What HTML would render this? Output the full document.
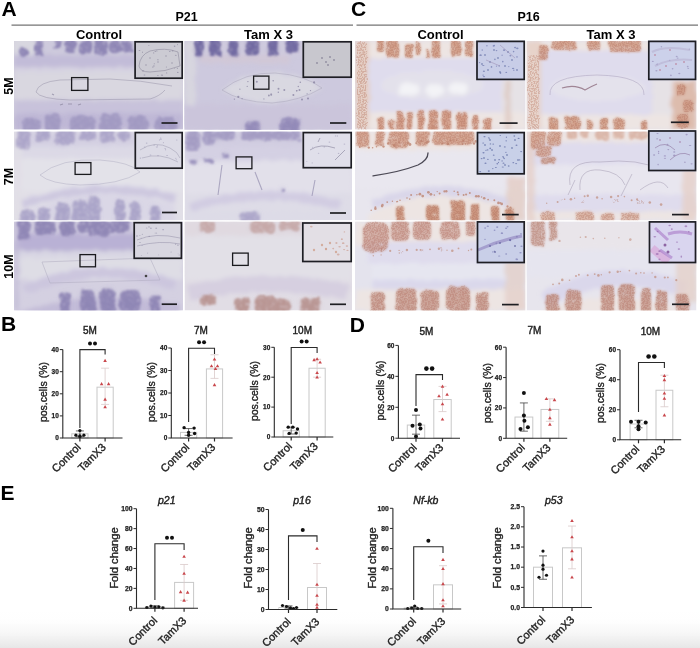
<!DOCTYPE html><html><head><meta charset="utf-8"><style>html,body{margin:0;padding:0;background:#fff;}body{width:700px;height:648px;overflow:hidden;position:relative;font-family:"Liberation Sans",sans-serif}svg{position:absolute;left:0;top:0}</style></head><body>
<svg width="700" height="648" viewBox="0 0 700 648" font-family='"Liberation Sans", sans-serif'>
<defs><linearGradient id="bot" x1="0" y1="0" x2="0" y2="1"><stop offset="0" stop-color="#fff" stop-opacity="0"/><stop offset="1" stop-color="#e6e6e6"/></linearGradient><filter id="bl" x="-5%" y="-5%" width="110%" height="110%"><feGaussianBlur stdDeviation="1.6"/></filter><filter id="bl2" x="-5%" y="-5%" width="110%" height="110%"><feGaussianBlur stdDeviation="0.7"/></filter></defs>
<rect width="700" height="648" fill="#fff"/>
<clipPath id="cp1"><rect x="14" y="41" width="169" height="88.6"/></clipPath>
<filter id="pb1" x="4" y="31" width="189" height="108.6" filterUnits="userSpaceOnUse"><feTurbulence type="fractalNoise" baseFrequency="0.12" numOctaves="2" seed="1" result="t"/><feDisplacementMap in="SourceGraphic" in2="t" scale="5" xChannelSelector="R" yChannelSelector="G" result="d"/><feGaussianBlur in="d" stdDeviation="2.0"/></filter>
<filter id="pt1" x="4" y="31" width="189" height="108.6" filterUnits="userSpaceOnUse"><feTurbulence type="fractalNoise" baseFrequency="0.13" numOctaves="2" seed="51" result="t"/><feDisplacementMap in="SourceGraphic" in2="t" scale="6" xChannelSelector="R" yChannelSelector="G" result="d"/><feTurbulence type="fractalNoise" baseFrequency="0.35" numOctaves="2" seed="91" result="n"/><feColorMatrix in="n" type="matrix" values="0 0 0 0 0  0 0 0 0 0  0 0 0 0 0  -3.0 0 0 0 2.55" result="m"/><feComposite in="d" in2="m" operator="in" result="s"/><feGaussianBlur in="s" stdDeviation="0.9"/></filter>
<filter id="ps1" x="4" y="31" width="189" height="108.6" filterUnits="userSpaceOnUse"><feColorMatrix type="saturate" values="0.92"/></filter>
<filter id="pd1" x="4" y="31" width="189" height="108.6" filterUnits="userSpaceOnUse"><feTurbulence type="fractalNoise" baseFrequency="0.13" numOctaves="2" seed="51" result="t"/><feDisplacementMap in="SourceGraphic" in2="t" scale="6" xChannelSelector="R" yChannelSelector="G" result="d"/><feTurbulence type="fractalNoise" baseFrequency="0.7" numOctaves="1" seed="131" result="n"/><feColorMatrix in="n" type="matrix" values="0 0 0 0 0  0 0 0 0 0  0 0 0 0 0  -6 0 0 0 3.5" result="m"/><feComposite in="d" in2="m" operator="in" result="s"/><feGaussianBlur in="s" stdDeviation="0.7"/></filter>
<filter id="pm1" x="4" y="31" width="189" height="108.6" filterUnits="userSpaceOnUse"><feGaussianBlur stdDeviation="0.6"/></filter>
<g clip-path="url(#cp1)"><g filter="url(#ps1)"><rect x="14" y="41" width="169" height="88.6" fill="#d0ccde"/>
<g filter="url(#pb1)">
<rect x="14" y="41" width="169" height="15" fill="#cecade" opacity="1"/>
<ellipse cx="24" cy="46" rx="14" ry="10" fill="#d8d7e1" opacity="1" transform="rotate(0 24 46)"/>
<rect x="14" y="55" width="169" height="12" fill="#c2bcda" opacity="1"/>
<rect x="14" y="67" width="169" height="5" fill="#d5d2e2" opacity="1"/>
<rect x="14" y="72" width="169" height="27" fill="#d9d7e1" opacity="1"/>
<rect x="14" y="101" width="169" height="12" fill="#c8c2dd" opacity="1"/>
<rect x="14" y="113" width="169" height="16.599999999999994" fill="#bfb8d8" opacity="1"/>
<g fill="#8a81b6" opacity="0.5">
<rect x="21" y="49" width="6" height="7" rx="2.8"/>
<rect x="36" y="41" width="6" height="14" rx="2.8"/>
<rect x="56" y="41" width="4" height="7" rx="2.1"/>
<rect x="66" y="41" width="9" height="11" rx="3.8"/>
<rect x="80" y="41" width="11" height="12" rx="4.5"/>
<rect x="96" y="41" width="11" height="13" rx="4.5"/>
<rect x="111" y="41" width="8" height="11" rx="3.5"/>
<rect x="122" y="41" width="9" height="10" rx="3.8"/>
</g>
</g>
<g filter="url(#pt1)">
<g fill="#8a81b6" opacity="0.9">
<rect x="20.0" y="48" width="8.0" height="9" rx="2.4"/>
<rect x="35.0" y="40" width="8.0" height="16" rx="2.4"/>
<rect x="55.0" y="40" width="6.0" height="9" rx="1.8"/>
<rect x="65.0" y="40" width="11.0" height="13" rx="3.3"/>
<rect x="79.0" y="40" width="13.0" height="14" rx="3.9"/>
<rect x="95.0" y="40" width="13.0" height="15" rx="3.9"/>
<rect x="110.0" y="40" width="10.0" height="13" rx="3.0"/>
<rect x="121.0" y="40" width="11.0" height="12" rx="3.3"/>
</g>
</g>
<g filter="url(#pb1)">
<g fill="#9f97c4" opacity="0.5">
<rect x="23" y="119" width="16" height="12" rx="4.9"/>
<rect x="46" y="115" width="13" height="16" rx="5.2"/>
<rect x="71" y="117" width="23" height="14" rx="5.6"/>
<rect x="101" y="115" width="20" height="16" rx="6.3"/>
<rect x="129" y="117" width="18" height="14" rx="5.6"/>
<rect x="156" y="119" width="19" height="12" rx="4.9"/>
</g>
</g>
<g filter="url(#pt1)">
<g fill="#9f97c4" opacity="0.85">
<rect x="22.0" y="118" width="18.0" height="14" rx="4.2"/>
<rect x="45.0" y="114" width="15.0" height="18" rx="4.5"/>
<rect x="70.0" y="116" width="25.0" height="16" rx="4.8"/>
<rect x="100.0" y="114" width="22.0" height="18" rx="5.4"/>
<rect x="128.0" y="116" width="20.0" height="16" rx="4.8"/>
<rect x="155.0" y="118" width="21.0" height="14" rx="4.2"/>
</g>
</g>
</g></g>
<path d="M36,92 Q38,82 60,80 L110,79 Q140,80 172,86 M36,92 Q40,99 70,100 L150,99 Q160,96 165,90" fill="none" stroke="#8c889f" stroke-width="0.8" opacity="0.55"/>
<path d="M60,105 l3,-1 M68,104 l4,0 M78,105 l3,-1 M52,94 l2,1" stroke="#8b869f" stroke-width="1.2" opacity="0.7"/>
<filter id="ib1" x="129.3" y="36" width="58.69999999999999" height="48" filterUnits="userSpaceOnUse"><feGaussianBlur stdDeviation="0.6"/></filter>
<clipPath id="ic1"><rect x="134.3" y="41" width="48.69999999999999" height="38"/></clipPath>
<rect x="134.3" y="41" width="48.69999999999999" height="38" fill="#cccbd3"/>
<g clip-path="url(#ic1)"><g filter="url(#ib1)">
<g fill="#7a7590" opacity="0.55">
<ellipse cx="172.6" cy="50.8" rx="1.0" ry="0.6"/>
<ellipse cx="154.3" cy="63.7" rx="0.6" ry="0.5"/>
<ellipse cx="155.3" cy="51.4" rx="0.8" ry="0.5"/>
<ellipse cx="153.7" cy="52.9" rx="0.6" ry="0.6"/>
<ellipse cx="175.8" cy="55.2" rx="0.9" ry="0.5"/>
<ellipse cx="169.8" cy="51.6" rx="0.8" ry="0.5"/>
<ellipse cx="174.5" cy="68.4" rx="0.5" ry="0.4"/>
<ellipse cx="156.9" cy="50.9" rx="0.6" ry="0.7"/>
<ellipse cx="177.5" cy="44.6" rx="0.5" ry="0.6"/>
<ellipse cx="177.8" cy="72.4" rx="0.8" ry="0.6"/>
<ellipse cx="157.9" cy="59.7" rx="0.9" ry="0.5"/>
<ellipse cx="166.4" cy="67.0" rx="0.6" ry="0.6"/>
<ellipse cx="144.5" cy="75.0" rx="0.9" ry="0.5"/>
<ellipse cx="162.2" cy="75.2" rx="0.7" ry="0.5"/>
<ellipse cx="166.7" cy="72.9" rx="0.6" ry="0.6"/>
<ellipse cx="153.9" cy="66.0" rx="0.7" ry="0.7"/>
<ellipse cx="161.9" cy="74.9" rx="1.0" ry="0.5"/>
<ellipse cx="177.4" cy="68.3" rx="0.6" ry="0.6"/>
<ellipse cx="148.9" cy="45.5" rx="0.5" ry="0.5"/>
<ellipse cx="174.6" cy="46.3" rx="0.8" ry="0.7"/>
<ellipse cx="152.8" cy="67.0" rx="0.8" ry="0.6"/>
<ellipse cx="157.9" cy="75.4" rx="0.7" ry="0.5"/>
<ellipse cx="142.5" cy="52.2" rx="0.5" ry="0.7"/>
<ellipse cx="143.0" cy="70.9" rx="0.9" ry="0.6"/>
<ellipse cx="139.5" cy="50.5" rx="0.9" ry="0.5"/>
</g>
<path d="M139,66 Q140,55 150,51 Q165,47 178,52 L180,66 Q165,72 150,72 Q140,72 139,66" fill="none" stroke="#8b879b" stroke-width="0.7" opacity="0.8"/>
<circle cx="150" cy="58" r="0.8" fill="#848099" opacity="0.6"/>
<circle cx="158" cy="62" r="0.8" fill="#848099" opacity="0.6"/>
<circle cx="166" cy="56" r="0.8" fill="#848099" opacity="0.6"/>
<circle cx="172" cy="63" r="0.8" fill="#848099" opacity="0.6"/>
<circle cx="146" cy="65" r="0.8" fill="#848099" opacity="0.6"/>
</g></g>
<rect x="135.10000000000002" y="41.8" width="47.09999999999999" height="36.4" fill="none" stroke="#1e1e24" stroke-width="1.7"/>
<rect x="71.6" y="77.6" width="16.3" height="12.8" fill="none" stroke="#1a1a1e" stroke-width="1.3"/>
<line x1="161.5" y1="123" x2="177.5" y2="123" stroke="#1e1e22" stroke-width="1.7"/>
<clipPath id="cp2"><rect x="184.5" y="41" width="167.5" height="88.6"/></clipPath>
<filter id="pb2" x="174.5" y="31" width="187.5" height="108.6" filterUnits="userSpaceOnUse"><feTurbulence type="fractalNoise" baseFrequency="0.12" numOctaves="2" seed="2" result="t"/><feDisplacementMap in="SourceGraphic" in2="t" scale="5" xChannelSelector="R" yChannelSelector="G" result="d"/><feGaussianBlur in="d" stdDeviation="2.0"/></filter>
<filter id="pt2" x="174.5" y="31" width="187.5" height="108.6" filterUnits="userSpaceOnUse"><feTurbulence type="fractalNoise" baseFrequency="0.13" numOctaves="2" seed="52" result="t"/><feDisplacementMap in="SourceGraphic" in2="t" scale="6" xChannelSelector="R" yChannelSelector="G" result="d"/><feTurbulence type="fractalNoise" baseFrequency="0.35" numOctaves="2" seed="92" result="n"/><feColorMatrix in="n" type="matrix" values="0 0 0 0 0  0 0 0 0 0  0 0 0 0 0  -3.0 0 0 0 2.55" result="m"/><feComposite in="d" in2="m" operator="in" result="s"/><feGaussianBlur in="s" stdDeviation="0.9"/></filter>
<filter id="ps2" x="174.5" y="31" width="187.5" height="108.6" filterUnits="userSpaceOnUse"><feColorMatrix type="saturate" values="0.92"/></filter>
<filter id="pd2" x="174.5" y="31" width="187.5" height="108.6" filterUnits="userSpaceOnUse"><feTurbulence type="fractalNoise" baseFrequency="0.13" numOctaves="2" seed="52" result="t"/><feDisplacementMap in="SourceGraphic" in2="t" scale="6" xChannelSelector="R" yChannelSelector="G" result="d"/><feTurbulence type="fractalNoise" baseFrequency="0.7" numOctaves="1" seed="132" result="n"/><feColorMatrix in="n" type="matrix" values="0 0 0 0 0  0 0 0 0 0  0 0 0 0 0  -6 0 0 0 3.5" result="m"/><feComposite in="d" in2="m" operator="in" result="s"/><feGaussianBlur in="s" stdDeviation="0.7"/></filter>
<filter id="pm2" x="174.5" y="31" width="187.5" height="108.6" filterUnits="userSpaceOnUse"><feGaussianBlur stdDeviation="0.6"/></filter>
<g clip-path="url(#cp2)"><g filter="url(#ps2)"><rect x="184.5" y="41" width="167.5" height="88.6" fill="#cdc9df"/>
<g filter="url(#pb2)">
<rect x="184.5" y="41" width="167.5" height="15" fill="#cfcadf" opacity="1"/>
<rect x="200" y="55" width="90" height="8" fill="#d2c8d7" opacity="0.9"/>
<rect x="184.5" y="41" width="11.0" height="88.6" fill="#d8d7e0" opacity="0.9"/>
<path d="M222,90 Q245,72 275,73 Q305,75 322,88 Q300,101 272,103 Q240,102 222,90 Z" fill="#d9d8e2" stroke="none" stroke-width="0" opacity="1"/>
<rect x="184.5" y="105" width="167.5" height="24.599999999999994" fill="#cbc5dd" opacity="1"/>
<g fill="#7d74ad" opacity="0.75">
<rect x="196" y="41" width="6" height="15" rx="2.8"/>
<rect x="210" y="41" width="10" height="13" rx="4.2"/>
<rect x="230" y="41" width="7" height="14" rx="3.1"/>
<rect x="247" y="41" width="11" height="13" rx="4.5"/>
<rect x="269" y="41" width="8" height="14" rx="3.5"/>
<rect x="287" y="41" width="10" height="11" rx="4.2"/>
</g>
</g>
<g filter="url(#pt2)">
<g fill="#6f66a3" opacity="0.95">
<rect x="195.0" y="40" width="8.0" height="17" rx="2.4"/>
<rect x="209.0" y="40" width="12.0" height="15" rx="3.6"/>
<rect x="229.0" y="40" width="9.0" height="16" rx="2.7"/>
<rect x="246.0" y="40" width="13.0" height="15" rx="3.9"/>
<rect x="268.0" y="40" width="10.0" height="16" rx="3.0"/>
<rect x="286.0" y="40" width="12.0" height="13" rx="3.6"/>
</g>
</g>
<g filter="url(#pb2)">
<g fill="#8a81b6" opacity="0.5">
<rect x="246" y="123" width="13" height="9" rx="3.8"/>
<rect x="281" y="119" width="18" height="13" rx="5.2"/>
</g>
</g>
<g filter="url(#pt2)">
<g fill="#8a81b6" opacity="0.75">
<rect x="245.0" y="122" width="15.0" height="11" rx="3.3"/>
<rect x="280.0" y="118" width="20.0" height="15" rx="4.5"/>
</g>
</g>
</g></g>
<path d="M222,90 Q245,72 275,73 Q305,75 322,88 Q300,101 272,103 Q240,102 222,90 Z" fill="none" stroke="#afaabf" stroke-width="0.7" opacity="0.8"/>
<g fill="#7a7496" opacity="0.65"><circle cx="298.3" cy="86.5" r="0.7"/><circle cx="300.3" cy="82.3" r="0.8"/><circle cx="278.3" cy="92.2" r="0.7"/><circle cx="284.3" cy="90.0" r="1.0"/><circle cx="234.4" cy="99.1" r="0.7"/><circle cx="299.5" cy="90.1" r="1.0"/><circle cx="247.2" cy="86.4" r="0.6"/><circle cx="296.6" cy="90.7" r="0.7"/><circle cx="247.9" cy="81.6" r="0.7"/><circle cx="278.5" cy="88.8" r="1.0"/><circle cx="238.3" cy="96.8" r="1.1"/><circle cx="293.4" cy="94.9" r="1.0"/><circle cx="239.9" cy="89.2" r="0.6"/><circle cx="296.9" cy="90.8" r="0.7"/><circle cx="268.9" cy="95.5" r="0.9"/><circle cx="242.1" cy="98.7" r="0.6"/><circle cx="302.0" cy="99.5" r="1.0"/><circle cx="310.5" cy="90.6" r="0.7"/><circle cx="271.2" cy="94.8" r="1.0"/><circle cx="263.9" cy="98.9" r="0.6"/><circle cx="273.2" cy="80.8" r="0.8"/><circle cx="314.1" cy="82.4" r="1.1"/><circle cx="307.1" cy="93.8" r="0.6"/><circle cx="271.1" cy="93.8" r="0.6"/><circle cx="256.8" cy="81.8" r="1.0"/><circle cx="308.0" cy="98.5" r="1.0"/></g>
<filter id="ib2" x="297.5" y="36" width="59.5" height="47" filterUnits="userSpaceOnUse"><feGaussianBlur stdDeviation="0.6"/></filter>
<clipPath id="ic2"><rect x="302.5" y="41" width="49.5" height="37"/></clipPath>
<rect x="302.5" y="41" width="49.5" height="37" fill="#c8c7ce"/>
<g clip-path="url(#ic2)"><g filter="url(#ib2)">
<circle cx="322" cy="58" r="0.9" fill="#817e93" opacity="0.8"/>
<circle cx="326" cy="62" r="0.9" fill="#817e93" opacity="0.8"/>
<circle cx="330" cy="57" r="0.9" fill="#817e93" opacity="0.8"/>
<circle cx="334" cy="60" r="0.9" fill="#817e93" opacity="0.8"/>
<circle cx="317" cy="63" r="0.9" fill="#817e93" opacity="0.8"/>
<circle cx="328" cy="65" r="0.9" fill="#817e93" opacity="0.8"/>
</g></g>
<rect x="303.3" y="41.8" width="47.9" height="35.4" fill="none" stroke="#1e1e24" stroke-width="1.7"/>
<rect x="253.6" y="76.1" width="15.3" height="13.099999999999998" fill="none" stroke="#1a1a1e" stroke-width="1.3"/>
<line x1="330" y1="123" x2="346.3" y2="123" stroke="#1e1e22" stroke-width="1.7"/>
<clipPath id="cp3"><rect x="14" y="131.5" width="169" height="88.80000000000001"/></clipPath>
<filter id="pb3" x="4" y="121.5" width="189" height="108.80000000000001" filterUnits="userSpaceOnUse"><feTurbulence type="fractalNoise" baseFrequency="0.12" numOctaves="2" seed="3" result="t"/><feDisplacementMap in="SourceGraphic" in2="t" scale="5" xChannelSelector="R" yChannelSelector="G" result="d"/><feGaussianBlur in="d" stdDeviation="2.0"/></filter>
<filter id="pt3" x="4" y="121.5" width="189" height="108.80000000000001" filterUnits="userSpaceOnUse"><feTurbulence type="fractalNoise" baseFrequency="0.13" numOctaves="2" seed="53" result="t"/><feDisplacementMap in="SourceGraphic" in2="t" scale="6" xChannelSelector="R" yChannelSelector="G" result="d"/><feTurbulence type="fractalNoise" baseFrequency="0.35" numOctaves="2" seed="93" result="n"/><feColorMatrix in="n" type="matrix" values="0 0 0 0 0  0 0 0 0 0  0 0 0 0 0  -3.0 0 0 0 2.55" result="m"/><feComposite in="d" in2="m" operator="in" result="s"/><feGaussianBlur in="s" stdDeviation="0.9"/></filter>
<filter id="ps3" x="4" y="121.5" width="189" height="108.80000000000001" filterUnits="userSpaceOnUse"><feColorMatrix type="saturate" values="0.92"/></filter>
<filter id="pd3" x="4" y="121.5" width="189" height="108.80000000000001" filterUnits="userSpaceOnUse"><feTurbulence type="fractalNoise" baseFrequency="0.13" numOctaves="2" seed="53" result="t"/><feDisplacementMap in="SourceGraphic" in2="t" scale="6" xChannelSelector="R" yChannelSelector="G" result="d"/><feTurbulence type="fractalNoise" baseFrequency="0.7" numOctaves="1" seed="133" result="n"/><feColorMatrix in="n" type="matrix" values="0 0 0 0 0  0 0 0 0 0  0 0 0 0 0  -6 0 0 0 3.5" result="m"/><feComposite in="d" in2="m" operator="in" result="s"/><feGaussianBlur in="s" stdDeviation="0.7"/></filter>
<filter id="pm3" x="4" y="121.5" width="189" height="108.80000000000001" filterUnits="userSpaceOnUse"><feGaussianBlur stdDeviation="0.6"/></filter>
<g clip-path="url(#cp3)"><g filter="url(#ps3)"><rect x="14" y="131.5" width="169" height="88.80000000000001" fill="#e1dfe8"/>
<g filter="url(#pb3)">
<rect x="14" y="131.5" width="169" height="15.0" fill="#d4d0e3" opacity="1"/>
<rect x="14" y="146.5" width="169" height="12.0" fill="#dcd9e7" opacity="1"/>
<rect x="14" y="158.5" width="169" height="33.0" fill="#e3e2ea" opacity="1"/>
<path d="M20,215 Q95,180 175,205 L175,221 L20,221 Z" fill="#dad7e7" stroke="none" stroke-width="0" opacity="1"/>
<path d="M22,205 Q95,178 175,198" fill="none" stroke="#cdc8e1" stroke-width="8" opacity="1"/>
<rect x="14" y="131.5" width="8" height="88.80000000000001" fill="#e1dfe7" opacity="0.8"/>
<g fill="#9f97c4" opacity="0.3">
<rect x="17" y="131" width="12" height="18" rx="4.9"/>
<rect x="36" y="131" width="13" height="9" rx="3.8"/>
<rect x="56" y="131" width="18" height="13" rx="5.2"/>
<rect x="81" y="131" width="13" height="8" rx="3.5"/>
<rect x="101" y="131" width="13" height="10" rx="4.2"/>
<rect x="119" y="131" width="10" height="8" rx="3.5"/>
</g>
</g>
<g filter="url(#pt3)">
<g fill="#9f97c4" opacity="0.65">
<rect x="16.0" y="130" width="14.0" height="20" rx="4.2"/>
<rect x="35.0" y="130" width="15.0" height="11" rx="3.3"/>
<rect x="55.0" y="130" width="20.0" height="15" rx="4.5"/>
<rect x="80.0" y="130" width="15.0" height="10" rx="3.0"/>
<rect x="100.0" y="130" width="15.0" height="12" rx="3.6"/>
<rect x="118.0" y="130" width="12.0" height="10" rx="3.0"/>
</g>
</g>
<g filter="url(#pb3)">
<g fill="#9f97c4" opacity="0.35">
<rect x="21" y="211" width="13" height="11" rx="4.5"/>
<rect x="39" y="209" width="10" height="13" rx="4.2"/>
<rect x="56" y="204" width="13" height="18" rx="5.2"/>
<rect x="73" y="201" width="14" height="21" rx="5.6"/>
<rect x="89" y="198" width="10" height="24" rx="4.2"/>
<rect x="116" y="201" width="8" height="21" rx="3.5"/>
<rect x="131" y="204" width="8" height="18" rx="3.5"/>
<rect x="151" y="207" width="8" height="15" rx="3.5"/>
</g>
</g>
<g filter="url(#pt3)">
<g fill="#9f97c4" opacity="0.7">
<rect x="20.0" y="210" width="15.0" height="13" rx="3.9"/>
<rect x="38.0" y="208" width="12.0" height="15" rx="3.6"/>
<rect x="55.0" y="203" width="15.0" height="20" rx="4.5"/>
<rect x="72.0" y="200" width="16.0" height="23" rx="4.8"/>
<rect x="88.0" y="197" width="12.0" height="26" rx="3.6"/>
<rect x="115.0" y="200" width="10.0" height="23" rx="3.0"/>
<rect x="130.0" y="203" width="10.0" height="20" rx="3.0"/>
<rect x="150.0" y="206" width="10.0" height="17" rx="3.0"/>
</g>
</g>
</g></g>
<path d="M40,175 Q60,158 100,160 Q130,162 140,172 Q120,185 80,185 Q50,184 40,175" fill="none" stroke="#b0adc1" stroke-width="0.7" opacity="0.7"/>
<filter id="ib3" x="129.5" y="126.80000000000001" width="58.5" height="47.19999999999999" filterUnits="userSpaceOnUse"><feGaussianBlur stdDeviation="0.6"/></filter>
<clipPath id="ic3"><rect x="134.5" y="131.8" width="48.5" height="37.19999999999999"/></clipPath>
<rect x="134.5" y="131.8" width="48.5" height="37.19999999999999" fill="#dcdbe6"/>
<g clip-path="url(#ic3)"><g filter="url(#ib3)">
<g fill="#8d88a8" opacity="0.5">
<ellipse cx="158.0" cy="155.6" rx="0.8" ry="0.6"/>
<ellipse cx="175.8" cy="158.3" rx="0.6" ry="0.5"/>
<ellipse cx="156.8" cy="147.0" rx="1.0" ry="0.6"/>
<ellipse cx="157.4" cy="145.8" rx="0.6" ry="0.6"/>
<ellipse cx="176.8" cy="140.0" rx="0.7" ry="0.5"/>
<ellipse cx="163.4" cy="142.7" rx="0.5" ry="0.6"/>
<ellipse cx="150.5" cy="155.0" rx="0.9" ry="0.6"/>
<ellipse cx="176.3" cy="159.8" rx="0.5" ry="0.5"/>
<ellipse cx="165.6" cy="149.7" rx="0.5" ry="0.7"/>
<ellipse cx="165.1" cy="148.4" rx="0.7" ry="0.5"/>
<ellipse cx="160.9" cy="139.2" rx="0.8" ry="0.7"/>
<ellipse cx="146.7" cy="143.1" rx="0.8" ry="0.7"/>
<ellipse cx="144.7" cy="147.0" rx="0.8" ry="0.5"/>
<ellipse cx="140.4" cy="158.1" rx="0.8" ry="0.6"/>
<ellipse cx="160.7" cy="138.0" rx="0.7" ry="0.6"/>
<ellipse cx="159.4" cy="139.9" rx="0.5" ry="0.6"/>
<ellipse cx="167.1" cy="155.6" rx="0.9" ry="0.5"/>
<ellipse cx="154.1" cy="145.1" rx="0.7" ry="0.6"/>
</g>
<path d="M140,150 Q155,140 170,148 Q178,152 180,158 M142,158 Q160,152 178,162" fill="none" stroke="#9b98ae" stroke-width="0.7" opacity="0.7"/>
</g></g>
<rect x="135.3" y="132.60000000000002" width="46.9" height="35.59999999999999" fill="none" stroke="#1e1e24" stroke-width="1.7"/>
<rect x="75.1" y="162.6" width="15.8" height="11.8" fill="none" stroke="#1a1a1e" stroke-width="1.3"/>
<line x1="162" y1="212.5" x2="177" y2="212.5" stroke="#1e1e22" stroke-width="1.7"/>
<clipPath id="cp4"><rect x="184.5" y="131.5" width="167.5" height="88.80000000000001"/></clipPath>
<filter id="pb4" x="174.5" y="121.5" width="187.5" height="108.80000000000001" filterUnits="userSpaceOnUse"><feTurbulence type="fractalNoise" baseFrequency="0.12" numOctaves="2" seed="4" result="t"/><feDisplacementMap in="SourceGraphic" in2="t" scale="5" xChannelSelector="R" yChannelSelector="G" result="d"/><feGaussianBlur in="d" stdDeviation="2.0"/></filter>
<filter id="pt4" x="174.5" y="121.5" width="187.5" height="108.80000000000001" filterUnits="userSpaceOnUse"><feTurbulence type="fractalNoise" baseFrequency="0.13" numOctaves="2" seed="54" result="t"/><feDisplacementMap in="SourceGraphic" in2="t" scale="6" xChannelSelector="R" yChannelSelector="G" result="d"/><feTurbulence type="fractalNoise" baseFrequency="0.35" numOctaves="2" seed="94" result="n"/><feColorMatrix in="n" type="matrix" values="0 0 0 0 0  0 0 0 0 0  0 0 0 0 0  -3.0 0 0 0 2.55" result="m"/><feComposite in="d" in2="m" operator="in" result="s"/><feGaussianBlur in="s" stdDeviation="0.9"/></filter>
<filter id="ps4" x="174.5" y="121.5" width="187.5" height="108.80000000000001" filterUnits="userSpaceOnUse"><feColorMatrix type="saturate" values="0.92"/></filter>
<filter id="pd4" x="174.5" y="121.5" width="187.5" height="108.80000000000001" filterUnits="userSpaceOnUse"><feTurbulence type="fractalNoise" baseFrequency="0.13" numOctaves="2" seed="54" result="t"/><feDisplacementMap in="SourceGraphic" in2="t" scale="6" xChannelSelector="R" yChannelSelector="G" result="d"/><feTurbulence type="fractalNoise" baseFrequency="0.7" numOctaves="1" seed="134" result="n"/><feColorMatrix in="n" type="matrix" values="0 0 0 0 0  0 0 0 0 0  0 0 0 0 0  -6 0 0 0 3.5" result="m"/><feComposite in="d" in2="m" operator="in" result="s"/><feGaussianBlur in="s" stdDeviation="0.7"/></filter>
<filter id="pm4" x="174.5" y="121.5" width="187.5" height="108.80000000000001" filterUnits="userSpaceOnUse"><feGaussianBlur stdDeviation="0.6"/></filter>
<g clip-path="url(#cp4)"><g filter="url(#ps4)"><rect x="184.5" y="131.5" width="167.5" height="88.80000000000001" fill="#dedce8"/>
<g filter="url(#pb4)">
<rect x="184.5" y="131.5" width="167.5" height="16.0" fill="#d1cde2" opacity="1"/>
<rect x="184.5" y="147.5" width="167.5" height="13.0" fill="#d4d0e4" opacity="1"/>
<rect x="184.5" y="160.5" width="167.5" height="33.0" fill="#e2e0eb" opacity="1"/>
<path d="M190,207 Q265,185 340,205" fill="none" stroke="#d1cce3" stroke-width="9" opacity="1"/>
<rect x="184.5" y="211.5" width="167.5" height="8.800000000000011" fill="#dddbe8" opacity="1"/>
<g fill="#9f97c4" opacity="0.5">
<rect x="187" y="131" width="12" height="18" rx="4.9"/>
<rect x="204" y="131" width="10" height="13" rx="4.2"/>
<rect x="216" y="131" width="18" height="8" rx="3.5"/>
<rect x="241" y="131" width="48" height="8" rx="3.5"/>
<rect x="291" y="131" width="8" height="9" rx="3.5"/>
</g>
</g>
<g filter="url(#pt4)">
<g fill="#9f97c4" opacity="0.8">
<rect x="186.0" y="130" width="14.0" height="20" rx="4.2"/>
<rect x="203.0" y="130" width="12.0" height="15" rx="3.6"/>
<rect x="215.0" y="130" width="20.0" height="10" rx="3.0"/>
<rect x="240.0" y="130" width="50.0" height="10" rx="3.0"/>
<rect x="290.0" y="130" width="10.0" height="11" rx="3.0"/>
</g>
</g>
<g filter="url(#pb4)">
<g fill="#8a81b6" opacity="0.5">
<rect x="190" y="161" width="7" height="2" rx="1.4"/>
<rect x="205" y="160" width="7" height="2" rx="1.4"/>
<rect x="223" y="154" width="4" height="2" rx="1.4"/>
<rect x="281" y="189" width="3" height="2" rx="1.4"/>
</g>
</g>
<g filter="url(#pt4)">
<g fill="#8a81b6" opacity="0.75">
<rect x="189.0" y="160" width="9.0" height="4" rx="1.2"/>
<rect x="204.0" y="159" width="9.0" height="4" rx="1.2"/>
<rect x="222.0" y="153" width="6.0" height="4" rx="1.2"/>
<rect x="280.0" y="188" width="5.0" height="4" rx="1.2"/>
</g>
</g>
<g filter="url(#pb4)">
<g fill="#9f97c4" opacity="0.5">
<rect x="241" y="213" width="18" height="9" rx="3.8"/>
</g>
</g>
<g filter="url(#pt4)">
<g fill="#9f97c4" opacity="0.6">
<rect x="240.0" y="212" width="20.0" height="11" rx="3.3"/>
</g>
</g>
</g></g>
<path d="M222,165 L218,195 M255,172 L262,190 M315,180 L312,196" fill="none" stroke="#9d98b7" stroke-width="1.1" opacity="0.8"/>
<filter id="ib4" x="297.5" y="126.80000000000001" width="59.5" height="46.69999999999999" filterUnits="userSpaceOnUse"><feGaussianBlur stdDeviation="0.6"/></filter>
<clipPath id="ic4"><rect x="302.5" y="131.8" width="49.5" height="36.69999999999999"/></clipPath>
<rect x="302.5" y="131.8" width="49.5" height="36.69999999999999" fill="#e0dfea"/>
<g clip-path="url(#ic4)"><g filter="url(#ib4)">
<g fill="#8d88a8" opacity="0.45">
<ellipse cx="306.8" cy="161.4" rx="0.8" ry="0.4"/>
<ellipse cx="329.4" cy="142.1" rx="0.9" ry="0.7"/>
<ellipse cx="318.6" cy="153.2" rx="0.7" ry="0.5"/>
<ellipse cx="324.3" cy="146.9" rx="0.7" ry="0.7"/>
<ellipse cx="337.3" cy="136.0" rx="0.7" ry="0.7"/>
<ellipse cx="338.6" cy="153.4" rx="0.8" ry="0.6"/>
<ellipse cx="312.6" cy="147.3" rx="0.6" ry="0.5"/>
<ellipse cx="335.5" cy="135.9" rx="0.6" ry="0.6"/>
<ellipse cx="344.4" cy="144.1" rx="0.9" ry="0.7"/>
<ellipse cx="312.2" cy="162.9" rx="0.6" ry="0.6"/>
</g>
<path d="M310,150 Q320,143 335,148 M318,142 L320,138 M335,160 L345,150" fill="none" stroke="#8b879f" stroke-width="0.8" opacity="0.8"/>
</g></g>
<rect x="303.3" y="132.60000000000002" width="47.9" height="35.09999999999999" fill="none" stroke="#1e1e24" stroke-width="1.7"/>
<rect x="236.1" y="156.9" width="15.8" height="11.8" fill="none" stroke="#1a1a1e" stroke-width="1.3"/>
<line x1="330" y1="213" x2="346" y2="213" stroke="#1e1e22" stroke-width="1.7"/>
<clipPath id="cp5"><rect x="14" y="221.6" width="169" height="88.9"/></clipPath>
<filter id="pb5" x="4" y="211.6" width="189" height="108.9" filterUnits="userSpaceOnUse"><feTurbulence type="fractalNoise" baseFrequency="0.12" numOctaves="2" seed="5" result="t"/><feDisplacementMap in="SourceGraphic" in2="t" scale="5" xChannelSelector="R" yChannelSelector="G" result="d"/><feGaussianBlur in="d" stdDeviation="2.0"/></filter>
<filter id="pt5" x="4" y="211.6" width="189" height="108.9" filterUnits="userSpaceOnUse"><feTurbulence type="fractalNoise" baseFrequency="0.13" numOctaves="2" seed="55" result="t"/><feDisplacementMap in="SourceGraphic" in2="t" scale="6" xChannelSelector="R" yChannelSelector="G" result="d"/><feTurbulence type="fractalNoise" baseFrequency="0.35" numOctaves="2" seed="95" result="n"/><feColorMatrix in="n" type="matrix" values="0 0 0 0 0  0 0 0 0 0  0 0 0 0 0  -3.0 0 0 0 2.55" result="m"/><feComposite in="d" in2="m" operator="in" result="s"/><feGaussianBlur in="s" stdDeviation="0.9"/></filter>
<filter id="ps5" x="4" y="211.6" width="189" height="108.9" filterUnits="userSpaceOnUse"><feColorMatrix type="saturate" values="0.92"/></filter>
<filter id="pd5" x="4" y="211.6" width="189" height="108.9" filterUnits="userSpaceOnUse"><feTurbulence type="fractalNoise" baseFrequency="0.13" numOctaves="2" seed="55" result="t"/><feDisplacementMap in="SourceGraphic" in2="t" scale="6" xChannelSelector="R" yChannelSelector="G" result="d"/><feTurbulence type="fractalNoise" baseFrequency="0.7" numOctaves="1" seed="135" result="n"/><feColorMatrix in="n" type="matrix" values="0 0 0 0 0  0 0 0 0 0  0 0 0 0 0  -6 0 0 0 3.5" result="m"/><feComposite in="d" in2="m" operator="in" result="s"/><feGaussianBlur in="s" stdDeviation="0.7"/></filter>
<filter id="pm5" x="4" y="211.6" width="189" height="108.9" filterUnits="userSpaceOnUse"><feGaussianBlur stdDeviation="0.6"/></filter>
<g clip-path="url(#cp5)"><g filter="url(#ps5)"><rect x="14" y="221.6" width="169" height="88.9" fill="#d4d0e2"/>
<g filter="url(#pb5)">
<rect x="14" y="221.6" width="169" height="14.0" fill="#d0cbe1" opacity="1"/>
<rect x="14" y="233.6" width="169" height="18.0" fill="#b9b1d7" opacity="1"/>
<rect x="14" y="250.6" width="169" height="7.000000000000028" fill="#d8d6e4" opacity="1"/>
<rect x="14" y="257.6" width="169" height="22.0" fill="#dedde6" opacity="1"/>
<path d="M25,290 Q95,258 175,285" fill="none" stroke="#ccc6e0" stroke-width="10" opacity="1"/>
<path d="M10,315 Q95,285 180,305 L180,315 Z" fill="#c3bcda" stroke="none" stroke-width="0" opacity="1"/>
<rect x="14" y="221.6" width="5" height="88.9" fill="#c3bdda" opacity="0.8"/>
<g fill="#8a81b6" opacity="0.5">
<rect x="19" y="221" width="10" height="18" rx="4.2"/>
<rect x="36" y="221" width="18" height="13" rx="5.2"/>
<rect x="61" y="221" width="13" height="14" rx="5.2"/>
<rect x="79" y="221" width="15" height="10" rx="4.2"/>
<rect x="91" y="221" width="18" height="14" rx="5.6"/>
<rect x="111" y="221" width="18" height="10" rx="4.2"/>
</g>
</g>
<g filter="url(#pt5)">
<g fill="#8a81b6" opacity="0.85">
<rect x="18.0" y="220" width="12.0" height="20" rx="3.6"/>
<rect x="35.0" y="220" width="20.0" height="15" rx="4.5"/>
<rect x="60.0" y="220" width="15.0" height="16" rx="4.5"/>
<rect x="78.0" y="220" width="17.0" height="12" rx="3.6"/>
<rect x="90.0" y="220" width="20.0" height="16" rx="4.8"/>
<rect x="110.0" y="220" width="20.0" height="12" rx="3.6"/>
</g>
</g>
<g filter="url(#pb5)">
<g fill="#8a81b6" opacity="0.5">
<rect x="61" y="293" width="8" height="19" rx="3.5"/>
<rect x="81" y="291" width="13" height="21" rx="5.2"/>
<rect x="101" y="289" width="13" height="23" rx="5.2"/>
<rect x="121" y="291" width="18" height="21" rx="7.0"/>
<rect x="151" y="296" width="8" height="16" rx="3.5"/>
</g>
</g>
<g filter="url(#pt5)">
<g fill="#8a81b6" opacity="0.85">
<rect x="60.0" y="292" width="10.0" height="21" rx="3.0"/>
<rect x="80.0" y="290" width="15.0" height="23" rx="4.5"/>
<rect x="100.0" y="288" width="15.0" height="25" rx="4.5"/>
<rect x="120.0" y="290" width="20.0" height="23" rx="6.0"/>
<rect x="150.0" y="295" width="10.0" height="18" rx="3.0"/>
</g>
</g>
</g></g>
<path d="M42,262 L150,258 L160,280 L50,283 Z" fill="none" stroke="#adaabe" stroke-width="0.7" opacity="0.7"/>
<circle cx="146" cy="276" r="1.3" fill="#444"/>
<filter id="ib5" x="128.4" y="216.9" width="58.79999999999998" height="47.20000000000002" filterUnits="userSpaceOnUse"><feGaussianBlur stdDeviation="0.6"/></filter>
<clipPath id="ic5"><rect x="133.4" y="221.9" width="48.79999999999998" height="37.20000000000002"/></clipPath>
<rect x="133.4" y="221.9" width="48.79999999999998" height="37.20000000000002" fill="#d8d6e0"/>
<g clip-path="url(#ic5)"><g filter="url(#ib5)">
<g fill="#8a86a0" opacity="0.5">
<ellipse cx="146.7" cy="228.0" rx="0.8" ry="0.5"/>
<ellipse cx="163.1" cy="229.7" rx="1.0" ry="0.6"/>
<ellipse cx="149.0" cy="226.9" rx="0.9" ry="0.7"/>
<ellipse cx="150.9" cy="228.2" rx="1.0" ry="0.7"/>
<ellipse cx="156.2" cy="228.3" rx="0.9" ry="0.7"/>
<ellipse cx="149.3" cy="236.4" rx="0.9" ry="0.6"/>
<ellipse cx="175.6" cy="244.3" rx="0.6" ry="0.7"/>
<ellipse cx="171.1" cy="251.9" rx="0.7" ry="0.5"/>
<ellipse cx="178.1" cy="253.8" rx="0.5" ry="0.4"/>
<ellipse cx="142.1" cy="245.5" rx="0.6" ry="0.5"/>
<ellipse cx="158.6" cy="254.9" rx="0.7" ry="0.4"/>
<ellipse cx="142.4" cy="234.2" rx="0.7" ry="0.5"/>
<ellipse cx="139.9" cy="235.5" rx="0.6" ry="0.5"/>
<ellipse cx="140.0" cy="242.6" rx="0.9" ry="0.5"/>
<ellipse cx="141.1" cy="238.1" rx="0.5" ry="0.5"/>
<ellipse cx="147.6" cy="253.1" rx="0.5" ry="0.6"/>
<ellipse cx="137.0" cy="236.0" rx="1.0" ry="0.7"/>
<ellipse cx="156.5" cy="233.1" rx="0.6" ry="0.6"/>
<ellipse cx="155.2" cy="233.1" rx="0.5" ry="0.6"/>
<ellipse cx="179.2" cy="254.9" rx="0.7" ry="0.5"/>
<ellipse cx="141.4" cy="255.7" rx="0.7" ry="0.4"/>
<ellipse cx="177.9" cy="245.2" rx="0.9" ry="0.6"/>
</g>
<path d="M137,240 Q155,232 180,238 M137,246 Q160,240 180,244" fill="none" stroke="#918da5" stroke-width="0.7" opacity="0.7"/>
</g></g>
<rect x="134.20000000000002" y="222.70000000000002" width="47.19999999999998" height="35.600000000000016" fill="none" stroke="#1e1e24" stroke-width="1.7"/>
<rect x="80.0" y="254.6" width="15.49999999999999" height="12.199999999999978" fill="none" stroke="#1a1a1e" stroke-width="1.3"/>
<line x1="161.7" y1="304.2" x2="177" y2="304.2" stroke="#1e1e22" stroke-width="1.7"/>
<clipPath id="cp6"><rect x="184.5" y="221.6" width="167.5" height="88.9"/></clipPath>
<filter id="pb6" x="174.5" y="211.6" width="187.5" height="108.9" filterUnits="userSpaceOnUse"><feTurbulence type="fractalNoise" baseFrequency="0.12" numOctaves="2" seed="6" result="t"/><feDisplacementMap in="SourceGraphic" in2="t" scale="5" xChannelSelector="R" yChannelSelector="G" result="d"/><feGaussianBlur in="d" stdDeviation="2.0"/></filter>
<filter id="pt6" x="174.5" y="211.6" width="187.5" height="108.9" filterUnits="userSpaceOnUse"><feTurbulence type="fractalNoise" baseFrequency="0.13" numOctaves="2" seed="56" result="t"/><feDisplacementMap in="SourceGraphic" in2="t" scale="6" xChannelSelector="R" yChannelSelector="G" result="d"/><feTurbulence type="fractalNoise" baseFrequency="0.35" numOctaves="2" seed="96" result="n"/><feColorMatrix in="n" type="matrix" values="0 0 0 0 0  0 0 0 0 0  0 0 0 0 0  -3.0 0 0 0 2.55" result="m"/><feComposite in="d" in2="m" operator="in" result="s"/><feGaussianBlur in="s" stdDeviation="0.9"/></filter>
<filter id="ps6" x="174.5" y="211.6" width="187.5" height="108.9" filterUnits="userSpaceOnUse"><feColorMatrix type="saturate" values="0.9"/></filter>
<filter id="pd6" x="174.5" y="211.6" width="187.5" height="108.9" filterUnits="userSpaceOnUse"><feTurbulence type="fractalNoise" baseFrequency="0.13" numOctaves="2" seed="56" result="t"/><feDisplacementMap in="SourceGraphic" in2="t" scale="6" xChannelSelector="R" yChannelSelector="G" result="d"/><feTurbulence type="fractalNoise" baseFrequency="0.7" numOctaves="1" seed="136" result="n"/><feColorMatrix in="n" type="matrix" values="0 0 0 0 0  0 0 0 0 0  0 0 0 0 0  -6 0 0 0 3.5" result="m"/><feComposite in="d" in2="m" operator="in" result="s"/><feGaussianBlur in="s" stdDeviation="0.7"/></filter>
<filter id="pm6" x="174.5" y="211.6" width="187.5" height="108.9" filterUnits="userSpaceOnUse"><feGaussianBlur stdDeviation="0.6"/></filter>
<g clip-path="url(#cp6)"><g filter="url(#ps6)"><rect x="184.5" y="221.6" width="167.5" height="88.9" fill="#e1dde6"/>
<g filter="url(#pb6)">
<rect x="184.5" y="221.6" width="167.5" height="14.0" fill="#e0d9e1" opacity="1"/>
<rect x="184.5" y="235.6" width="167.5" height="44.00000000000003" fill="#e2e0e8" opacity="1"/>
<path d="M188,293 Q265,275 348,292" fill="none" stroke="#d6cfe1" stroke-width="16" opacity="1"/>
<g fill="#c6a3a2" opacity="0.5">
<rect x="201" y="222" width="13" height="9" rx="3.8"/>
<rect x="251" y="222" width="23" height="10" rx="4.2"/>
<rect x="281" y="222" width="18" height="7" rx="3.1"/>
</g>
</g>
<g filter="url(#pt6)">
<g fill="#c6a3a2" opacity="0.8">
<rect x="200.0" y="221" width="15.0" height="11" rx="3.3"/>
<rect x="250.0" y="221" width="25.0" height="12" rx="3.6"/>
<rect x="280.0" y="221" width="20.0" height="9" rx="2.7"/>
</g>
</g>
<g filter="url(#pb6)">
<g fill="#bb928e" opacity="0.5">
<rect x="201" y="296" width="13" height="8" rx="3.5"/>
<rect x="236" y="299" width="13" height="13" rx="5.2"/>
<rect x="256" y="297" width="18" height="15" rx="5.9"/>
<rect x="273" y="300" width="16" height="12" rx="4.9"/>
<rect x="301" y="299" width="18" height="13" rx="5.2"/>
</g>
</g>
<g filter="url(#pt6)">
<g fill="#bb928e" opacity="0.9">
<rect x="200.0" y="295" width="15.0" height="10" rx="3.0"/>
<rect x="235.0" y="298" width="15.0" height="15" rx="4.5"/>
<rect x="255.0" y="296" width="20.0" height="17" rx="5.1"/>
<rect x="272.0" y="299" width="18.0" height="14" rx="4.2"/>
<rect x="300.0" y="298" width="20.0" height="15" rx="4.5"/>
</g>
</g>
</g></g>
<filter id="ib6" x="297" y="217.2" width="60" height="50.10000000000002" filterUnits="userSpaceOnUse"><feGaussianBlur stdDeviation="0.6"/></filter>
<clipPath id="ic6"><rect x="302" y="222.2" width="50" height="40.10000000000002"/></clipPath>
<rect x="302" y="222.2" width="50" height="40.10000000000002" fill="#e3dfe5"/>
<g clip-path="url(#ic6)"><g filter="url(#ib6)">
<g fill="#c99585" opacity="0.6">
<ellipse cx="344.4" cy="231.9" rx="0.8" ry="0.6"/>
<ellipse cx="338.2" cy="254.5" rx="1.4" ry="0.9"/>
<ellipse cx="333.2" cy="248.6" rx="1.0" ry="0.8"/>
<ellipse cx="311.3" cy="226.6" rx="1.3" ry="0.9"/>
<ellipse cx="347.5" cy="250.4" rx="1.1" ry="0.7"/>
<ellipse cx="343.2" cy="243.2" rx="1.3" ry="0.9"/>
<ellipse cx="339.6" cy="246.7" rx="1.3" ry="0.8"/>
<ellipse cx="336.4" cy="243.1" rx="1.1" ry="1.0"/>
<ellipse cx="344.1" cy="249.6" rx="1.1" ry="0.7"/>
<ellipse cx="341.9" cy="239.2" rx="1.0" ry="0.9"/>
<ellipse cx="326.0" cy="249.0" rx="0.8" ry="0.9"/>
<ellipse cx="346.9" cy="246.1" rx="1.3" ry="0.8"/>
</g>
<circle cx="322" cy="245" r="1.2" fill="#cfa08d" opacity="0.8"/>
<circle cx="326" cy="249" r="1.2" fill="#cfa08d" opacity="0.8"/>
<circle cx="330" cy="243" r="1.2" fill="#cfa08d" opacity="0.8"/>
<circle cx="314" cy="250" r="1.2" fill="#cfa08d" opacity="0.8"/>
<circle cx="336" cy="252" r="1.2" fill="#cfa08d" opacity="0.8"/>
</g></g>
<rect x="302.8" y="223.0" width="48.4" height="38.50000000000002" fill="none" stroke="#1e1e24" stroke-width="1.7"/>
<rect x="232.6" y="253.1" width="15.600000000000012" height="12.3" fill="none" stroke="#1a1a1e" stroke-width="1.3"/>
<line x1="330" y1="304.3" x2="346" y2="304.3" stroke="#1e1e22" stroke-width="1.7"/>
<clipPath id="cp7"><rect x="355" y="41" width="170.5" height="88.6"/></clipPath>
<filter id="pb7" x="345" y="31" width="190.5" height="108.6" filterUnits="userSpaceOnUse"><feTurbulence type="fractalNoise" baseFrequency="0.12" numOctaves="2" seed="7" result="t"/><feDisplacementMap in="SourceGraphic" in2="t" scale="5" xChannelSelector="R" yChannelSelector="G" result="d"/><feGaussianBlur in="d" stdDeviation="2.0"/></filter>
<filter id="pt7" x="345" y="31" width="190.5" height="108.6" filterUnits="userSpaceOnUse"><feTurbulence type="fractalNoise" baseFrequency="0.13" numOctaves="2" seed="57" result="t"/><feDisplacementMap in="SourceGraphic" in2="t" scale="3.5" xChannelSelector="R" yChannelSelector="G" result="d"/><feTurbulence type="fractalNoise" baseFrequency="0.3" numOctaves="2" seed="97" result="n"/><feColorMatrix in="n" type="matrix" values="0 0 0 0 0  0 0 0 0 0  0 0 0 0 0  -2.6 0 0 0 2.45" result="m"/><feComposite in="d" in2="m" operator="in" result="s"/><feGaussianBlur in="s" stdDeviation="0.9"/></filter>
<filter id="ps7" x="345" y="31" width="190.5" height="108.6" filterUnits="userSpaceOnUse"><feColorMatrix type="saturate" values="1.05"/></filter>
<filter id="pd7" x="345" y="31" width="190.5" height="108.6" filterUnits="userSpaceOnUse"><feTurbulence type="fractalNoise" baseFrequency="0.13" numOctaves="2" seed="57" result="t"/><feDisplacementMap in="SourceGraphic" in2="t" scale="3.5" xChannelSelector="R" yChannelSelector="G" result="d"/><feTurbulence type="fractalNoise" baseFrequency="0.7" numOctaves="1" seed="137" result="n"/><feColorMatrix in="n" type="matrix" values="0 0 0 0 0  0 0 0 0 0  0 0 0 0 0  -6 0 0 0 3.5" result="m"/><feComposite in="d" in2="m" operator="in" result="s"/><feGaussianBlur in="s" stdDeviation="0.7"/></filter>
<filter id="pm7" x="345" y="31" width="190.5" height="108.6" filterUnits="userSpaceOnUse"><feGaussianBlur stdDeviation="0.6"/></filter>
<g clip-path="url(#cp7)"><g filter="url(#ps7)"><rect x="355" y="41" width="170.5" height="88.6" fill="#e3dfe8"/>
<g filter="url(#pb7)">
<rect x="355" y="41" width="170.5" height="17" fill="#ede5e3" opacity="1"/>
<rect x="368" y="58" width="134" height="54" fill="#dfdcec" opacity="1"/>
<ellipse cx="432" cy="85" rx="52" ry="15" fill="#e3e1eb" opacity="1" transform="rotate(0 432 85)"/>
<g fill="#f3f3f6" opacity="1">
<ellipse cx="409.0" cy="89.0" rx="11.0" ry="7.0"/>
<ellipse cx="435.0" cy="90.5" rx="10.0" ry="6.5"/>
<ellipse cx="458.0" cy="88.5" rx="10.0" ry="6.5"/>
</g>
<rect x="355" y="41" width="14" height="88.6" fill="#e4cfc6" opacity="1"/>
<rect x="502" y="79" width="23.5" height="50.599999999999994" fill="#e6e2e6" opacity="1"/>
<rect x="355" y="112" width="170.5" height="17.599999999999994" fill="#ede5e3" opacity="1"/>
<rect x="355" y="112" width="14" height="17.599999999999994" fill="#e4cfc6" opacity="1"/>
<rect x="505" y="81" width="6" height="48.599999999999994" fill="#dcc9c2" opacity="0.8"/>
</g>
<g filter="url(#pt7)">
<g fill="#cb937c" opacity="0.85">
<rect x="376.9" y="40" width="7.2000000000000455" height="12" rx="2.2"/>
<rect x="385.9" y="40" width="13.200000000000045" height="18" rx="4.0"/>
<rect x="404.9" y="44" width="8.200000000000045" height="14" rx="2.5"/>
<rect x="415.9" y="42" width="4.2000000000000455" height="14" rx="1.3"/>
<rect x="425.9" y="50" width="3.2000000000000455" height="8" rx="1.0"/>
<rect x="431.9" y="40" width="8.200000000000045" height="18" rx="2.5"/>
<rect x="450.9" y="40" width="10.200000000000045" height="16" rx="3.1"/>
<rect x="464.9" y="40" width="8.200000000000045" height="16" rx="2.5"/>
</g>
</g>
<g filter="url(#pd7)">
<g fill="#a66a5c" opacity="0.28">
<rect x="376.9" y="40" width="7.2000000000000455" height="12" rx="2.2"/>
<rect x="385.9" y="40" width="13.200000000000045" height="18" rx="4.0"/>
<rect x="404.9" y="44" width="8.200000000000045" height="14" rx="2.5"/>
<rect x="415.9" y="42" width="4.2000000000000455" height="14" rx="1.3"/>
<rect x="425.9" y="50" width="3.2000000000000455" height="8" rx="1.0"/>
<rect x="431.9" y="40" width="8.200000000000045" height="18" rx="2.5"/>
<rect x="450.9" y="40" width="10.200000000000045" height="16" rx="3.1"/>
<rect x="464.9" y="40" width="8.200000000000045" height="16" rx="2.5"/>
</g>
<g fill="#b87a66" opacity="0.4">
<rect x="356.9" y="42" width="10.200000000000045" height="89" rx="3.1"/>
</g>
</g>
<g filter="url(#pt7)">
<g fill="#cb937c" opacity="0.9">
<rect x="377.9" y="118" width="6.2000000000000455" height="15" rx="1.9"/>
<rect x="388.9" y="120" width="5.2000000000000455" height="13" rx="1.6"/>
<rect x="395.9" y="112" width="8.200000000000045" height="21" rx="2.5"/>
<rect x="406.9" y="112" width="5.2000000000000455" height="21" rx="1.6"/>
<rect x="417.9" y="110" width="6.2000000000000455" height="23" rx="1.9"/>
<rect x="428.9" y="110" width="9.200000000000045" height="23" rx="2.8"/>
<rect x="441.9" y="110" width="9.200000000000045" height="23" rx="2.8"/>
<rect x="456.9" y="112" width="10.200000000000045" height="21" rx="3.1"/>
<rect x="471.9" y="115" width="6.2000000000000455" height="18" rx="1.9"/>
<rect x="482.9" y="118" width="8.200000000000045" height="15" rx="2.5"/>
</g>
</g>
<g filter="url(#pd7)">
<g fill="#a66a5c" opacity="0.28">
<rect x="377.9" y="118" width="6.2000000000000455" height="15" rx="1.9"/>
<rect x="388.9" y="120" width="5.2000000000000455" height="13" rx="1.6"/>
<rect x="395.9" y="112" width="8.200000000000045" height="21" rx="2.5"/>
<rect x="406.9" y="112" width="5.2000000000000455" height="21" rx="1.6"/>
<rect x="417.9" y="110" width="6.2000000000000455" height="23" rx="1.9"/>
<rect x="428.9" y="110" width="9.200000000000045" height="23" rx="2.8"/>
<rect x="441.9" y="110" width="9.200000000000045" height="23" rx="2.8"/>
<rect x="456.9" y="112" width="10.200000000000045" height="21" rx="3.1"/>
<rect x="471.9" y="115" width="6.2000000000000455" height="18" rx="1.9"/>
<rect x="482.9" y="118" width="8.200000000000045" height="15" rx="2.5"/>
</g>
</g>
</g></g>
<filter id="ib7" x="471.2" y="35.6" width="58.80000000000001" height="49.6" filterUnits="userSpaceOnUse"><feGaussianBlur stdDeviation="0.6"/></filter>
<clipPath id="ic7"><rect x="476.2" y="40.6" width="48.80000000000001" height="39.6"/></clipPath>
<rect x="476.2" y="40.6" width="48.80000000000001" height="39.6" fill="#c8cde7"/>
<g clip-path="url(#ic7)"><g filter="url(#ib7)">
<g fill="#6670a8" opacity="0.65">
<ellipse cx="504.1" cy="50.1" rx="1.2" ry="0.9"/>
<ellipse cx="499.2" cy="65.9" rx="0.8" ry="0.6"/>
<ellipse cx="491.5" cy="66.9" rx="0.8" ry="0.9"/>
<ellipse cx="482.2" cy="50.1" rx="0.7" ry="0.8"/>
<ellipse cx="494.9" cy="59.4" rx="0.8" ry="0.8"/>
<ellipse cx="496.5" cy="50.6" rx="0.9" ry="0.6"/>
<ellipse cx="483.9" cy="71.3" rx="1.1" ry="0.8"/>
<ellipse cx="517.0" cy="56.9" rx="0.9" ry="0.7"/>
<ellipse cx="496.5" cy="66.1" rx="0.6" ry="0.7"/>
<ellipse cx="502.1" cy="55.2" rx="0.6" ry="0.8"/>
<ellipse cx="479.6" cy="62.6" rx="0.7" ry="0.6"/>
<ellipse cx="486.9" cy="45.8" rx="0.7" ry="0.8"/>
<ellipse cx="510.4" cy="55.8" rx="1.0" ry="0.7"/>
<ellipse cx="500.5" cy="73.0" rx="0.8" ry="0.9"/>
<ellipse cx="508.8" cy="66.6" rx="0.6" ry="0.6"/>
<ellipse cx="480.6" cy="55.2" rx="1.2" ry="0.9"/>
<ellipse cx="515.1" cy="47.6" rx="1.1" ry="0.8"/>
<ellipse cx="513.8" cy="70.2" rx="0.7" ry="0.6"/>
<ellipse cx="513.1" cy="68.4" rx="1.2" ry="0.7"/>
<ellipse cx="517.3" cy="48.3" rx="1.2" ry="0.9"/>
<ellipse cx="493.6" cy="45.9" rx="1.0" ry="0.8"/>
<ellipse cx="494.2" cy="45.5" rx="0.8" ry="0.8"/>
<ellipse cx="483.1" cy="75.1" rx="0.8" ry="0.6"/>
<ellipse cx="484.0" cy="76.6" rx="1.2" ry="0.7"/>
<ellipse cx="483.3" cy="65.6" rx="1.2" ry="0.5"/>
<ellipse cx="506.3" cy="72.4" rx="0.9" ry="0.7"/>
<ellipse cx="513.6" cy="51.6" rx="0.8" ry="0.8"/>
<ellipse cx="502.8" cy="61.6" rx="0.8" ry="0.9"/>
</g>
<circle cx="485" cy="55" r="0.9" fill="#6a76a8" opacity="0.7"/>
<circle cx="490" cy="62" r="0.9" fill="#6a76a8" opacity="0.7"/>
<circle cx="498" cy="58" r="0.9" fill="#6a76a8" opacity="0.7"/>
<circle cx="505" cy="66" r="0.9" fill="#6a76a8" opacity="0.7"/>
<circle cx="512" cy="60" r="0.9" fill="#6a76a8" opacity="0.7"/>
<circle cx="500" cy="72" r="0.9" fill="#6a76a8" opacity="0.7"/>
<circle cx="488" cy="70" r="0.9" fill="#6a76a8" opacity="0.7"/>
<circle cx="482" cy="64" r="0.9" fill="#6a76a8" opacity="0.7"/>
<circle cx="517" cy="70" r="0.9" fill="#6a76a8" opacity="0.7"/>
<circle cx="494" cy="50" r="0.9" fill="#6a76a8" opacity="0.7"/>
<circle cx="508" cy="52" r="0.9" fill="#6a76a8" opacity="0.7"/>
<path d="M500,45 L515,58 M486,60 L500,66" fill="none" stroke="#9a8ab0" stroke-width="1" opacity="0.5"/>
</g></g>
<rect x="477.0" y="41.4" width="47.20000000000001" height="38.0" fill="none" stroke="#1e1e24" stroke-width="1.7"/>
<line x1="499.6" y1="123.1" x2="517.6" y2="123.1" stroke="#1e1e22" stroke-width="1.7"/>
<clipPath id="cp8"><rect x="526.5" y="41" width="170.0" height="88.6"/></clipPath>
<filter id="pb8" x="516.5" y="31" width="190.0" height="108.6" filterUnits="userSpaceOnUse"><feTurbulence type="fractalNoise" baseFrequency="0.12" numOctaves="2" seed="8" result="t"/><feDisplacementMap in="SourceGraphic" in2="t" scale="5" xChannelSelector="R" yChannelSelector="G" result="d"/><feGaussianBlur in="d" stdDeviation="2.0"/></filter>
<filter id="pt8" x="516.5" y="31" width="190.0" height="108.6" filterUnits="userSpaceOnUse"><feTurbulence type="fractalNoise" baseFrequency="0.13" numOctaves="2" seed="58" result="t"/><feDisplacementMap in="SourceGraphic" in2="t" scale="3.5" xChannelSelector="R" yChannelSelector="G" result="d"/><feTurbulence type="fractalNoise" baseFrequency="0.3" numOctaves="2" seed="98" result="n"/><feColorMatrix in="n" type="matrix" values="0 0 0 0 0  0 0 0 0 0  0 0 0 0 0  -2.6 0 0 0 2.45" result="m"/><feComposite in="d" in2="m" operator="in" result="s"/><feGaussianBlur in="s" stdDeviation="0.9"/></filter>
<filter id="ps8" x="516.5" y="31" width="190.0" height="108.6" filterUnits="userSpaceOnUse"><feColorMatrix type="saturate" values="1.05"/></filter>
<filter id="pd8" x="516.5" y="31" width="190.0" height="108.6" filterUnits="userSpaceOnUse"><feTurbulence type="fractalNoise" baseFrequency="0.13" numOctaves="2" seed="58" result="t"/><feDisplacementMap in="SourceGraphic" in2="t" scale="3.5" xChannelSelector="R" yChannelSelector="G" result="d"/><feTurbulence type="fractalNoise" baseFrequency="0.7" numOctaves="1" seed="138" result="n"/><feColorMatrix in="n" type="matrix" values="0 0 0 0 0  0 0 0 0 0  0 0 0 0 0  -6 0 0 0 3.5" result="m"/><feComposite in="d" in2="m" operator="in" result="s"/><feGaussianBlur in="s" stdDeviation="0.7"/></filter>
<filter id="pm8" x="516.5" y="31" width="190.0" height="108.6" filterUnits="userSpaceOnUse"><feGaussianBlur stdDeviation="0.6"/></filter>
<g clip-path="url(#cp8)"><g filter="url(#ps8)"><rect x="526.5" y="41" width="170.0" height="88.6" fill="#e4e1e9"/>
<g filter="url(#pb8)">
<rect x="526.5" y="41" width="170.0" height="10" fill="#ede5e3" opacity="1"/>
<rect x="541" y="50" width="111" height="66" fill="#dfdcec" opacity="1"/>
<ellipse cx="597" cy="88" rx="48" ry="13" fill="#e4e2ec" opacity="1" transform="rotate(0 597 88)"/>
<rect x="526.5" y="41" width="14.5" height="88.6" fill="#e6d3cb" opacity="1"/>
<rect x="652" y="80" width="44.5" height="49.599999999999994" fill="#e6e2e6" opacity="1"/>
<rect x="526.5" y="115" width="170.0" height="14.599999999999994" fill="#ede5e3" opacity="1"/>
<rect x="526.5" y="115" width="14.5" height="14.599999999999994" fill="#e6d3cb" opacity="1"/>
<rect x="672" y="81" width="24.5" height="48.599999999999994" fill="#dcbcae" opacity="1"/>
</g>
<g filter="url(#pt8)">
<g fill="#cb937c" opacity="0.8">
<rect x="538.9" y="45" width="9.200000000000045" height="15" rx="2.8"/>
<rect x="550.9" y="40" width="25.200000000000045" height="10" rx="3.0"/>
<rect x="587.9" y="40" width="12.200000000000045" height="11" rx="3.3"/>
<rect x="608.9" y="40" width="32.200000000000045" height="12" rx="3.6"/>
</g>
</g>
<g filter="url(#pd8)">
<g fill="#a66a5c" opacity="0.28">
<rect x="538.9" y="45" width="9.200000000000045" height="15" rx="2.8"/>
<rect x="550.9" y="40" width="25.200000000000045" height="10" rx="3.0"/>
<rect x="587.9" y="40" width="12.200000000000045" height="11" rx="3.3"/>
<rect x="608.9" y="40" width="32.200000000000045" height="12" rx="3.6"/>
</g>
<g fill="#b87a66" opacity="0.38">
<rect x="527.9" y="55" width="11.200000000000045" height="76" rx="3.4"/>
</g>
</g>
<g filter="url(#pt8)">
<g fill="#c2866e" opacity="0.6">
<rect x="676.9" y="84" width="8.200000000000045" height="12" rx="2.5"/>
<rect x="682.9" y="100" width="10.200000000000045" height="12" rx="3.1"/>
<rect x="676.9" y="114" width="12.200000000000045" height="14" rx="3.7"/>
</g>
</g>
<g filter="url(#pd8)">
<g fill="#a66a5c" opacity="0.28">
<rect x="676.9" y="84" width="8.200000000000045" height="12" rx="2.5"/>
<rect x="682.9" y="100" width="10.200000000000045" height="12" rx="3.1"/>
<rect x="676.9" y="114" width="12.200000000000045" height="14" rx="3.7"/>
</g>
</g>
<g filter="url(#pt8)">
<g fill="#cb937c" opacity="0.85">
<rect x="548.9" y="118" width="9.200000000000045" height="15" rx="2.8"/>
<rect x="564.9" y="116" width="15.200000000000045" height="17" rx="4.6"/>
<rect x="586.9" y="120" width="5.2000000000000455" height="13" rx="1.6"/>
<rect x="599.9" y="118" width="8.200000000000045" height="15" rx="2.5"/>
<rect x="613.9" y="118" width="11.200000000000045" height="15" rx="3.4"/>
<rect x="640.9" y="120" width="6.2000000000000455" height="13" rx="1.9"/>
</g>
</g>
<g filter="url(#pd8)">
<g fill="#a66a5c" opacity="0.28">
<rect x="548.9" y="118" width="9.200000000000045" height="15" rx="2.8"/>
<rect x="564.9" y="116" width="15.200000000000045" height="17" rx="4.6"/>
<rect x="586.9" y="120" width="5.2000000000000455" height="13" rx="1.6"/>
<rect x="599.9" y="118" width="8.200000000000045" height="15" rx="2.5"/>
<rect x="613.9" y="118" width="11.200000000000045" height="15" rx="3.4"/>
<rect x="640.9" y="120" width="6.2000000000000455" height="13" rx="1.9"/>
</g>
</g>
</g></g>
<path d="M562,88 Q575,84 585,90 Q592,86 597,84" fill="none" stroke="#8f6e80" stroke-width="1.1" opacity="0.8"/>
<path d="M550,95 Q548,76 597,75 Q645,76 644,95" fill="none" stroke="#b4abc4" stroke-width="0.8" opacity="0.8"/>
<filter id="ib8" x="643" y="35.6" width="58.299999999999955" height="49.6" filterUnits="userSpaceOnUse"><feGaussianBlur stdDeviation="0.6"/></filter>
<clipPath id="ic8"><rect x="648" y="40.6" width="48.299999999999955" height="39.6"/></clipPath>
<rect x="648" y="40.6" width="48.299999999999955" height="39.6" fill="#ccd1ea"/>
<g clip-path="url(#ic8)"><g filter="url(#ib8)">
<g fill="#8a80b0" opacity="0.55">
<ellipse cx="657.3" cy="64.3" rx="0.7" ry="0.8"/>
<ellipse cx="676.7" cy="56.5" rx="1.0" ry="0.7"/>
<ellipse cx="652.8" cy="61.4" rx="1.0" ry="0.7"/>
<ellipse cx="688.2" cy="68.3" rx="0.9" ry="0.6"/>
<ellipse cx="656.4" cy="70.8" rx="1.1" ry="0.8"/>
<ellipse cx="669.7" cy="60.4" rx="0.8" ry="0.7"/>
<ellipse cx="657.1" cy="64.5" rx="1.0" ry="0.8"/>
<ellipse cx="661.4" cy="46.7" rx="0.8" ry="0.8"/>
<ellipse cx="672.6" cy="68.7" rx="0.9" ry="0.7"/>
<ellipse cx="689.4" cy="49.2" rx="0.8" ry="0.8"/>
<ellipse cx="677.7" cy="58.1" rx="1.0" ry="0.7"/>
<ellipse cx="679.3" cy="73.5" rx="1.1" ry="0.8"/>
<ellipse cx="670.9" cy="75.4" rx="0.9" ry="0.8"/>
<ellipse cx="687.7" cy="66.6" rx="0.9" ry="0.8"/>
</g>
<path d="M652,52 Q665,45 690,50 M655,66 Q670,58 692,60" fill="none" stroke="#b8b0d0" stroke-width="2" opacity="0.6"/>
<circle cx="660" cy="70" r="1.0" fill="#b7738a" opacity="0.6"/>
<circle cx="666" cy="66" r="1.0" fill="#b7738a" opacity="0.6"/>
<circle cx="676" cy="64" r="1.0" fill="#b7738a" opacity="0.6"/>
<circle cx="684" cy="62" r="1.0" fill="#b7738a" opacity="0.6"/>
<circle cx="655" cy="55" r="1.0" fill="#b7738a" opacity="0.6"/>
<circle cx="670" cy="50" r="1.0" fill="#b7738a" opacity="0.6"/>
</g></g>
<rect x="648.8" y="41.4" width="46.69999999999995" height="38.0" fill="none" stroke="#1e1e24" stroke-width="1.7"/>
<line x1="670.9" y1="122.3" x2="688.8" y2="122.3" stroke="#1e1e22" stroke-width="1.7"/>
<clipPath id="cp9"><rect x="355" y="131.5" width="170.5" height="88.80000000000001"/></clipPath>
<filter id="pb9" x="345" y="121.5" width="190.5" height="108.80000000000001" filterUnits="userSpaceOnUse"><feTurbulence type="fractalNoise" baseFrequency="0.12" numOctaves="2" seed="9" result="t"/><feDisplacementMap in="SourceGraphic" in2="t" scale="5" xChannelSelector="R" yChannelSelector="G" result="d"/><feGaussianBlur in="d" stdDeviation="2.0"/></filter>
<filter id="pt9" x="345" y="121.5" width="190.5" height="108.80000000000001" filterUnits="userSpaceOnUse"><feTurbulence type="fractalNoise" baseFrequency="0.13" numOctaves="2" seed="59" result="t"/><feDisplacementMap in="SourceGraphic" in2="t" scale="3.5" xChannelSelector="R" yChannelSelector="G" result="d"/><feTurbulence type="fractalNoise" baseFrequency="0.3" numOctaves="2" seed="99" result="n"/><feColorMatrix in="n" type="matrix" values="0 0 0 0 0  0 0 0 0 0  0 0 0 0 0  -2.6 0 0 0 2.45" result="m"/><feComposite in="d" in2="m" operator="in" result="s"/><feGaussianBlur in="s" stdDeviation="0.9"/></filter>
<filter id="ps9" x="345" y="121.5" width="190.5" height="108.80000000000001" filterUnits="userSpaceOnUse"><feColorMatrix type="saturate" values="1.05"/></filter>
<filter id="pd9" x="345" y="121.5" width="190.5" height="108.80000000000001" filterUnits="userSpaceOnUse"><feTurbulence type="fractalNoise" baseFrequency="0.13" numOctaves="2" seed="59" result="t"/><feDisplacementMap in="SourceGraphic" in2="t" scale="3.5" xChannelSelector="R" yChannelSelector="G" result="d"/><feTurbulence type="fractalNoise" baseFrequency="0.7" numOctaves="1" seed="139" result="n"/><feColorMatrix in="n" type="matrix" values="0 0 0 0 0  0 0 0 0 0  0 0 0 0 0  -6 0 0 0 3.5" result="m"/><feComposite in="d" in2="m" operator="in" result="s"/><feGaussianBlur in="s" stdDeviation="0.7"/></filter>
<filter id="pm9" x="345" y="121.5" width="190.5" height="108.80000000000001" filterUnits="userSpaceOnUse"><feGaussianBlur stdDeviation="0.6"/></filter>
<g clip-path="url(#cp9)"><g filter="url(#ps9)"><rect x="355" y="131.5" width="170.5" height="88.80000000000001" fill="#e8e6ee"/>
<g filter="url(#pb9)">
<rect x="355" y="131.5" width="170.5" height="19.0" fill="#ede5e3" opacity="1"/>
<rect x="355" y="150.5" width="170.5" height="37.0" fill="#e9e7ef" opacity="1"/>
<path d="M368,215 Q440,176 512,210 L512,221 L368,221 Z" fill="#ede5e3" stroke="none" stroke-width="0" opacity="1"/>
<path d="M372,205 Q440,178 510,203" fill="none" stroke="#d9d6e8" stroke-width="9" opacity="1"/>
<rect x="507" y="176.5" width="18.5" height="43.80000000000001" fill="#e2cdc4" opacity="0.8"/>
</g>
<g filter="url(#pt9)">
<g fill="#cb937c" opacity="0.8">
<rect x="355.9" y="130" width="13.200000000000045" height="17" rx="4.0"/>
<rect x="375.9" y="130" width="8.200000000000045" height="16" rx="2.5"/>
<rect x="388.9" y="130" width="20.200000000000045" height="18" rx="5.4"/>
<rect x="415.9" y="130" width="13.200000000000045" height="16" rx="4.0"/>
<rect x="432.9" y="130" width="41.200000000000045" height="15" rx="4.5"/>
</g>
</g>
<g filter="url(#pd9)">
<g fill="#a66a5c" opacity="0.28">
<rect x="355.9" y="130" width="13.200000000000045" height="17" rx="4.0"/>
<rect x="375.9" y="130" width="8.200000000000045" height="16" rx="2.5"/>
<rect x="388.9" y="130" width="20.200000000000045" height="18" rx="5.4"/>
<rect x="415.9" y="130" width="13.200000000000045" height="16" rx="4.0"/>
<rect x="432.9" y="130" width="41.200000000000045" height="15" rx="4.5"/>
</g>
</g>
<g filter="url(#pm9)">
<g fill="#b9806c" opacity="0.75">
<circle cx="359.8" cy="147.0" r="0.9"/>
<circle cx="368.8" cy="147.6" r="1.2"/>
<circle cx="372.6" cy="147.7" r="0.8"/>
<circle cx="376.5" cy="146.7" r="0.8"/>
<circle cx="380.9" cy="145.1" r="0.8"/>
<circle cx="383.5" cy="146.6" r="1.2"/>
<circle cx="388.1" cy="143.5" r="1.2"/>
<circle cx="394.3" cy="145.5" r="1.3"/>
<circle cx="399.3" cy="142.3" r="1.1"/>
<circle cx="404.9" cy="145.1" r="0.8"/>
<circle cx="408.2" cy="143.0" r="1.4"/>
<circle cx="410.0" cy="144.5" r="1.4"/>
<circle cx="416.1" cy="143.1" r="0.9"/>
<circle cx="421.5" cy="141.2" r="1.1"/>
<circle cx="426.7" cy="142.6" r="1.1"/>
<circle cx="428.4" cy="141.6" r="1.3"/>
<circle cx="435.0" cy="143.9" r="0.7"/>
<circle cx="439.3" cy="140.0" r="0.8"/>
<circle cx="442.5" cy="143.4" r="0.9"/>
<circle cx="447.8" cy="143.8" r="1.4"/>
<circle cx="450.6" cy="140.5" r="0.9"/>
<circle cx="456.6" cy="140.3" r="0.7"/>
<circle cx="462.4" cy="144.2" r="0.9"/>
<circle cx="463.2" cy="140.7" r="1.1"/>
<circle cx="465.2" cy="143.7" r="0.8"/>
<circle cx="474.0" cy="143.5" r="1.2"/>
<circle cx="475.9" cy="141.4" r="1.4"/>
<circle cx="480.0" cy="143.9" r="1.0"/>
<circle cx="481.8" cy="144.5" r="0.9"/>
<circle cx="489.3" cy="142.8" r="0.7"/>
<circle cx="492.9" cy="143.7" r="1.1"/>
<circle cx="496.2" cy="145.4" r="1.4"/>
<circle cx="498.5" cy="146.6" r="1.0"/>
<circle cx="500.5" cy="147.2" r="1.2"/>
</g>
<g fill="#b9806c" opacity="0.75">
<circle cx="371.2" cy="210.3" r="0.8"/>
<circle cx="375.4" cy="208.8" r="1.3"/>
<circle cx="375.4" cy="207.3" r="1.0"/>
<circle cx="382.1" cy="206.1" r="1.3"/>
<circle cx="382.5" cy="204.9" r="1.2"/>
<circle cx="387.2" cy="202.1" r="0.9"/>
<circle cx="392.4" cy="201.2" r="0.7"/>
<circle cx="397.5" cy="201.5" r="0.7"/>
<circle cx="396.8" cy="201.7" r="0.8"/>
<circle cx="400.0" cy="200.3" r="0.8"/>
<circle cx="407.0" cy="198.0" r="0.8"/>
<circle cx="409.7" cy="199.1" r="0.8"/>
<circle cx="411.1" cy="195.0" r="1.0"/>
<circle cx="416.9" cy="194.8" r="0.8"/>
<circle cx="419.9" cy="194.2" r="1.4"/>
<circle cx="422.7" cy="196.1" r="1.4"/>
<circle cx="428.4" cy="192.3" r="1.4"/>
<circle cx="430.9" cy="194.3" r="1.4"/>
<circle cx="434.3" cy="195.1" r="0.8"/>
<circle cx="437.2" cy="191.6" r="0.7"/>
<circle cx="439.6" cy="193.6" r="1.0"/>
<circle cx="444.4" cy="191.4" r="1.1"/>
<circle cx="446.3" cy="191.2" r="1.2"/>
<circle cx="454.2" cy="191.3" r="0.8"/>
<circle cx="457.7" cy="192.3" r="1.0"/>
<circle cx="458.3" cy="194.6" r="1.0"/>
<circle cx="463.6" cy="194.9" r="1.0"/>
<circle cx="466.1" cy="194.5" r="1.1"/>
<circle cx="469.8" cy="193.1" r="1.0"/>
<circle cx="476.2" cy="196.2" r="1.3"/>
<circle cx="478.5" cy="196.3" r="1.3"/>
<circle cx="481.6" cy="197.0" r="0.8"/>
<circle cx="484.2" cy="198.2" r="1.3"/>
<circle cx="488.1" cy="199.6" r="0.9"/>
<circle cx="494.3" cy="200.2" r="1.0"/>
<circle cx="498.4" cy="202.9" r="1.3"/>
<circle cx="500.1" cy="203.0" r="1.0"/>
<circle cx="501.7" cy="203.9" r="1.3"/>
<circle cx="507.5" cy="206.4" r="1.1"/>
<circle cx="510.5" cy="207.5" r="1.1"/>
</g>
</g>
<g filter="url(#pt9)">
<g fill="#c2866e" opacity="0.85">
<rect x="395.9" y="206" width="8.200000000000045" height="17" rx="2.5"/>
<rect x="425.9" y="205" width="13.200000000000045" height="18" rx="4.0"/>
<rect x="450.9" y="200" width="14.200000000000045" height="23" rx="4.3"/>
<rect x="470.9" y="204" width="8.200000000000045" height="19" rx="2.5"/>
<rect x="490.9" y="206" width="8.200000000000045" height="17" rx="2.5"/>
<rect x="505.9" y="208" width="8.200000000000045" height="15" rx="2.5"/>
</g>
</g>
<g filter="url(#pd9)">
<g fill="#a66a5c" opacity="0.28">
<rect x="395.9" y="206" width="8.200000000000045" height="17" rx="2.5"/>
<rect x="425.9" y="205" width="13.200000000000045" height="18" rx="4.0"/>
<rect x="450.9" y="200" width="14.200000000000045" height="23" rx="4.3"/>
<rect x="470.9" y="204" width="8.200000000000045" height="19" rx="2.5"/>
<rect x="490.9" y="206" width="8.200000000000045" height="17" rx="2.5"/>
<rect x="505.9" y="208" width="8.200000000000045" height="15" rx="2.5"/>
</g>
</g>
</g></g>
<path d="M373,175.8 Q400,172 418,165 Q428,160 428,153" fill="none" stroke="#3a3744" stroke-width="1.3" opacity="0.9" stroke-linecap="round"/>
<filter id="ib9" x="471.7" y="126.80000000000001" width="58.30000000000001" height="52.79999999999998" filterUnits="userSpaceOnUse"><feGaussianBlur stdDeviation="0.6"/></filter>
<clipPath id="ic9"><rect x="476.7" y="131.8" width="48.30000000000001" height="42.79999999999998"/></clipPath>
<rect x="476.7" y="131.8" width="48.30000000000001" height="42.79999999999998" fill="#c8d0e8"/>
<g clip-path="url(#ic9)"><g filter="url(#ib9)">
<g fill="#5f6aa2" opacity="0.7">
<ellipse cx="521.1" cy="151.6" rx="1.0" ry="0.7"/>
<ellipse cx="488.8" cy="137.7" rx="0.9" ry="0.5"/>
<ellipse cx="495.9" cy="167.5" rx="1.0" ry="0.5"/>
<ellipse cx="483.2" cy="143.0" rx="1.0" ry="0.5"/>
<ellipse cx="489.2" cy="138.7" rx="0.6" ry="0.6"/>
<ellipse cx="487.5" cy="149.9" rx="1.0" ry="0.7"/>
<ellipse cx="497.3" cy="163.7" rx="0.9" ry="0.7"/>
<ellipse cx="490.2" cy="148.4" rx="0.9" ry="0.8"/>
<ellipse cx="505.9" cy="152.3" rx="0.7" ry="0.6"/>
<ellipse cx="488.8" cy="171.1" rx="1.1" ry="0.8"/>
<ellipse cx="502.1" cy="160.9" rx="0.7" ry="0.6"/>
<ellipse cx="485.9" cy="150.3" rx="0.7" ry="0.5"/>
<ellipse cx="518.6" cy="138.4" rx="1.0" ry="0.7"/>
<ellipse cx="483.5" cy="152.7" rx="1.1" ry="0.8"/>
<ellipse cx="503.5" cy="163.2" rx="1.0" ry="0.6"/>
<ellipse cx="503.0" cy="156.8" rx="0.8" ry="0.7"/>
<ellipse cx="498.5" cy="162.4" rx="0.6" ry="0.6"/>
<ellipse cx="481.6" cy="158.6" rx="1.0" ry="0.7"/>
<ellipse cx="503.6" cy="157.7" rx="0.7" ry="0.6"/>
<ellipse cx="504.2" cy="158.6" rx="0.8" ry="0.6"/>
<ellipse cx="493.7" cy="155.2" rx="0.9" ry="0.6"/>
<ellipse cx="508.7" cy="166.0" rx="0.9" ry="0.8"/>
<ellipse cx="492.8" cy="168.6" rx="0.7" ry="0.6"/>
<ellipse cx="514.3" cy="136.0" rx="0.9" ry="0.8"/>
<ellipse cx="519.6" cy="159.9" rx="0.8" ry="0.6"/>
<ellipse cx="506.4" cy="137.3" rx="0.6" ry="0.8"/>
<ellipse cx="506.2" cy="140.8" rx="0.8" ry="0.6"/>
<ellipse cx="516.5" cy="145.3" rx="1.0" ry="0.7"/>
<ellipse cx="493.2" cy="144.1" rx="0.9" ry="0.6"/>
<ellipse cx="504.8" cy="146.9" rx="1.0" ry="0.6"/>
<ellipse cx="485.5" cy="163.3" rx="1.1" ry="0.7"/>
<ellipse cx="502.8" cy="166.9" rx="1.1" ry="0.5"/>
<ellipse cx="500.3" cy="135.5" rx="0.7" ry="0.6"/>
<ellipse cx="499.2" cy="159.7" rx="1.0" ry="0.6"/>
<ellipse cx="480.2" cy="171.6" rx="1.0" ry="0.7"/>
<ellipse cx="484.5" cy="136.7" rx="1.1" ry="0.6"/>
<ellipse cx="516.1" cy="163.6" rx="1.0" ry="0.7"/>
<ellipse cx="490.4" cy="143.9" rx="0.8" ry="0.7"/>
<ellipse cx="513.3" cy="162.7" rx="0.9" ry="0.6"/>
<ellipse cx="487.9" cy="159.3" rx="0.9" ry="0.6"/>
</g>
<circle cx="485" cy="145" r="0.9" fill="#6a76a8" opacity="0.75"/>
<circle cx="492" cy="150" r="0.9" fill="#6a76a8" opacity="0.75"/>
<circle cx="500" cy="146" r="0.9" fill="#6a76a8" opacity="0.75"/>
<circle cx="507" cy="155" r="0.9" fill="#6a76a8" opacity="0.75"/>
<circle cx="512" cy="148" r="0.9" fill="#6a76a8" opacity="0.75"/>
<circle cx="495" cy="160" r="0.9" fill="#6a76a8" opacity="0.75"/>
<circle cx="505" cy="165" r="0.9" fill="#6a76a8" opacity="0.75"/>
<circle cx="484" cy="158" r="0.9" fill="#6a76a8" opacity="0.75"/>
<circle cx="518" cy="160" r="0.9" fill="#6a76a8" opacity="0.75"/>
<circle cx="490" cy="140" r="0.9" fill="#6a76a8" opacity="0.75"/>
<circle cx="515" cy="140" r="0.9" fill="#6a76a8" opacity="0.75"/>
</g></g>
<rect x="477.5" y="132.60000000000002" width="46.70000000000001" height="41.19999999999998" fill="none" stroke="#1e1e24" stroke-width="1.7"/>
<line x1="502" y1="214.6" x2="518.7" y2="214.6" stroke="#1e1e22" stroke-width="1.7"/>
<clipPath id="cp10"><rect x="526.5" y="131.5" width="170.0" height="88.80000000000001"/></clipPath>
<filter id="pb10" x="516.5" y="121.5" width="190.0" height="108.80000000000001" filterUnits="userSpaceOnUse"><feTurbulence type="fractalNoise" baseFrequency="0.12" numOctaves="2" seed="10" result="t"/><feDisplacementMap in="SourceGraphic" in2="t" scale="5" xChannelSelector="R" yChannelSelector="G" result="d"/><feGaussianBlur in="d" stdDeviation="2.0"/></filter>
<filter id="pt10" x="516.5" y="121.5" width="190.0" height="108.80000000000001" filterUnits="userSpaceOnUse"><feTurbulence type="fractalNoise" baseFrequency="0.13" numOctaves="2" seed="60" result="t"/><feDisplacementMap in="SourceGraphic" in2="t" scale="3.5" xChannelSelector="R" yChannelSelector="G" result="d"/><feTurbulence type="fractalNoise" baseFrequency="0.3" numOctaves="2" seed="100" result="n"/><feColorMatrix in="n" type="matrix" values="0 0 0 0 0  0 0 0 0 0  0 0 0 0 0  -2.6 0 0 0 2.45" result="m"/><feComposite in="d" in2="m" operator="in" result="s"/><feGaussianBlur in="s" stdDeviation="0.9"/></filter>
<filter id="ps10" x="516.5" y="121.5" width="190.0" height="108.80000000000001" filterUnits="userSpaceOnUse"><feColorMatrix type="saturate" values="1.05"/></filter>
<filter id="pd10" x="516.5" y="121.5" width="190.0" height="108.80000000000001" filterUnits="userSpaceOnUse"><feTurbulence type="fractalNoise" baseFrequency="0.13" numOctaves="2" seed="60" result="t"/><feDisplacementMap in="SourceGraphic" in2="t" scale="3.5" xChannelSelector="R" yChannelSelector="G" result="d"/><feTurbulence type="fractalNoise" baseFrequency="0.7" numOctaves="1" seed="140" result="n"/><feColorMatrix in="n" type="matrix" values="0 0 0 0 0  0 0 0 0 0  0 0 0 0 0  -6 0 0 0 3.5" result="m"/><feComposite in="d" in2="m" operator="in" result="s"/><feGaussianBlur in="s" stdDeviation="0.7"/></filter>
<filter id="pm10" x="516.5" y="121.5" width="190.0" height="108.80000000000001" filterUnits="userSpaceOnUse"><feGaussianBlur stdDeviation="0.6"/></filter>
<g clip-path="url(#cp10)"><g filter="url(#ps10)"><rect x="526.5" y="131.5" width="170.0" height="88.80000000000001" fill="#e6e4ed"/>
<g filter="url(#pb10)">
<rect x="526.5" y="131.5" width="170.0" height="11.0" fill="#ede5e3" opacity="1"/>
<rect x="526.5" y="142.5" width="170.0" height="22.0" fill="#dfdcec" opacity="1"/>
<rect x="526.5" y="164.5" width="170.0" height="30.0" fill="#e8e6ef" opacity="1"/>
<rect x="526.5" y="194.5" width="170.0" height="17.0" fill="#dfdcec" opacity="1"/>
<rect x="526.5" y="211.5" width="170.0" height="8.800000000000011" fill="#ede5e3" opacity="1"/>
<rect x="682.5" y="131.5" width="14.0" height="88.80000000000001" fill="#e4d0c8" opacity="0.8"/>
<rect x="526.5" y="131.5" width="8.0" height="88.80000000000001" fill="#e4d0c8" opacity="0.8"/>
</g>
<g filter="url(#pt10)">
<g fill="#cb937c" opacity="0.75">
<rect x="530.9" y="130" width="14.200000000000045" height="20" rx="4.3"/>
<rect x="546.9" y="131" width="14.200000000000045" height="15" rx="4.3"/>
<rect x="535.9" y="146" width="15.200000000000045" height="10" rx="3.0"/>
</g>
</g>
<g filter="url(#pd10)">
<g fill="#a66a5c" opacity="0.28">
<rect x="530.9" y="130" width="14.200000000000045" height="20" rx="4.3"/>
<rect x="546.9" y="131" width="14.200000000000045" height="15" rx="4.3"/>
<rect x="535.9" y="146" width="15.200000000000045" height="10" rx="3.0"/>
</g>
</g>
<g filter="url(#pt10)">
<g fill="#cb937c" opacity="0.55">
<rect x="566.9" y="130" width="10.200000000000045" height="9" rx="2.7"/>
<rect x="580.9" y="130" width="8.200000000000045" height="8" rx="2.4"/>
<rect x="594.9" y="130" width="14.200000000000045" height="10" rx="3.0"/>
<rect x="612.9" y="130" width="11.200000000000045" height="9" rx="2.7"/>
<rect x="628.9" y="130" width="18.200000000000045" height="9" rx="2.7"/>
</g>
<g fill="#c2866e" opacity="0.7">
<rect x="540.9" y="157" width="14.200000000000045" height="7" rx="2.1"/>
</g>
</g>
<g filter="url(#pd10)">
<g fill="#a66a5c" opacity="0.28">
<rect x="540.9" y="157" width="14.200000000000045" height="7" rx="2.1"/>
</g>
</g>
<g filter="url(#pm10)">
<g fill="#b9806c" opacity="0.6">
<circle cx="546.7" cy="203.3" r="0.7"/>
<circle cx="557.6" cy="202.1" r="1.0"/>
<circle cx="564.7" cy="199.3" r="0.7"/>
<circle cx="570.9" cy="199.2" r="1.3"/>
<circle cx="574.6" cy="198.2" r="0.7"/>
<circle cx="584.6" cy="196.2" r="1.0"/>
<circle cx="587.8" cy="195.8" r="1.2"/>
<circle cx="597.1" cy="197.5" r="1.2"/>
<circle cx="602.1" cy="198.8" r="0.8"/>
<circle cx="611.1" cy="197.0" r="1.3"/>
<circle cx="618.1" cy="196.1" r="1.1"/>
<circle cx="624.4" cy="196.6" r="0.8"/>
<circle cx="631.6" cy="200.2" r="1.0"/>
<circle cx="637.1" cy="199.4" r="1.1"/>
<circle cx="649.8" cy="202.5" r="1.3"/>
<circle cx="661.1" cy="204.6" r="1.3"/>
</g>
</g>
<g filter="url(#pd10)">
<g fill="#a66a5c" opacity="0.28">
<rect x="560.9" y="199" width="2.2000000000000455" height="3" rx="0.7"/>
<rect x="580.9" y="200" width="3.2000000000000455" height="3" rx="0.9"/>
<rect x="612.9" y="199" width="6.2000000000000455" height="4" rx="1.2"/>
<rect x="635.9" y="200" width="8.200000000000045" height="4" rx="1.2"/>
</g>
</g>
<g filter="url(#pt10)">
<g fill="#cb937c" opacity="0.6">
<rect x="540.9" y="212" width="14.200000000000045" height="11" rx="3.3"/>
<rect x="575.9" y="212" width="18.200000000000045" height="11" rx="3.3"/>
<rect x="600.9" y="213" width="13.200000000000045" height="10" rx="3.0"/>
<rect x="620.9" y="212" width="18.200000000000045" height="11" rx="3.3"/>
</g>
</g>
<g filter="url(#pd10)">
<g fill="#a66a5c" opacity="0.28">
<rect x="540.9" y="212" width="14.200000000000045" height="11" rx="3.3"/>
<rect x="575.9" y="212" width="18.200000000000045" height="11" rx="3.3"/>
<rect x="600.9" y="213" width="13.200000000000045" height="10" rx="3.0"/>
<rect x="620.9" y="212" width="18.200000000000045" height="11" rx="3.3"/>
</g>
</g>
</g></g>
<path d="M570,185 Q566,160 600,162 Q640,158 660,170 M632,174 L621,196 M575,180 L568,195 M580,190 Q578,168 600,170 Q620,172 625,185 M640,190 Q660,175 668,188" fill="none" stroke="#9f95ad" stroke-width="0.8" opacity="0.6"/>
<filter id="ib10" x="643" y="125.19999999999999" width="58.299999999999955" height="51.10000000000002" filterUnits="userSpaceOnUse"><feGaussianBlur stdDeviation="0.6"/></filter>
<clipPath id="ic10"><rect x="648" y="130.2" width="48.299999999999955" height="41.10000000000002"/></clipPath>
<rect x="648" y="130.2" width="48.299999999999955" height="41.10000000000002" fill="#cdd2ea"/>
<g clip-path="url(#ic10)"><g filter="url(#ib10)">
<g fill="#8474a8" opacity="0.55">
<ellipse cx="691.6" cy="163.8" rx="1.1" ry="0.6"/>
<ellipse cx="665.0" cy="158.3" rx="1.1" ry="0.5"/>
<ellipse cx="658.1" cy="164.6" rx="0.7" ry="0.8"/>
<ellipse cx="664.9" cy="155.9" rx="1.2" ry="0.7"/>
<ellipse cx="667.5" cy="144.5" rx="1.0" ry="0.8"/>
<ellipse cx="668.3" cy="149.6" rx="1.0" ry="0.6"/>
<ellipse cx="658.6" cy="153.2" rx="0.7" ry="0.8"/>
<ellipse cx="684.9" cy="162.3" rx="0.8" ry="0.7"/>
<ellipse cx="690.1" cy="145.5" rx="1.3" ry="0.6"/>
<ellipse cx="686.6" cy="134.6" rx="1.1" ry="0.8"/>
<ellipse cx="674.2" cy="155.4" rx="1.2" ry="0.9"/>
<ellipse cx="658.6" cy="151.5" rx="0.7" ry="0.7"/>
<ellipse cx="657.1" cy="138.8" rx="1.0" ry="0.6"/>
<ellipse cx="657.5" cy="133.5" rx="1.1" ry="0.6"/>
<ellipse cx="654.1" cy="155.0" rx="1.1" ry="0.8"/>
<ellipse cx="674.2" cy="152.0" rx="1.1" ry="0.7"/>
</g>
<path d="M655,148 Q665,140 675,150 M670,160 Q680,150 690,155" fill="none" stroke="#8a6f9a" stroke-width="0.8" opacity="0.7"/>
<circle cx="660" cy="140" r="1" fill="#a07aa0" opacity="0.6"/>
<circle cx="670" cy="138" r="1" fill="#a07aa0" opacity="0.6"/>
<circle cx="680" cy="142" r="1" fill="#a07aa0" opacity="0.6"/>
</g></g>
<rect x="648.8" y="131.0" width="46.69999999999995" height="39.50000000000002" fill="none" stroke="#1e1e24" stroke-width="1.7"/>
<line x1="672" y1="214.6" x2="688.8" y2="214.6" stroke="#1e1e22" stroke-width="1.7"/>
<clipPath id="cp11"><rect x="355" y="221.6" width="170.5" height="88.9"/></clipPath>
<filter id="pb11" x="345" y="211.6" width="190.5" height="108.9" filterUnits="userSpaceOnUse"><feTurbulence type="fractalNoise" baseFrequency="0.12" numOctaves="2" seed="11" result="t"/><feDisplacementMap in="SourceGraphic" in2="t" scale="5" xChannelSelector="R" yChannelSelector="G" result="d"/><feGaussianBlur in="d" stdDeviation="2.0"/></filter>
<filter id="pt11" x="345" y="211.6" width="190.5" height="108.9" filterUnits="userSpaceOnUse"><feTurbulence type="fractalNoise" baseFrequency="0.13" numOctaves="2" seed="61" result="t"/><feDisplacementMap in="SourceGraphic" in2="t" scale="3.5" xChannelSelector="R" yChannelSelector="G" result="d"/><feTurbulence type="fractalNoise" baseFrequency="0.3" numOctaves="2" seed="101" result="n"/><feColorMatrix in="n" type="matrix" values="0 0 0 0 0  0 0 0 0 0  0 0 0 0 0  -2.6 0 0 0 2.45" result="m"/><feComposite in="d" in2="m" operator="in" result="s"/><feGaussianBlur in="s" stdDeviation="0.9"/></filter>
<filter id="ps11" x="345" y="211.6" width="190.5" height="108.9" filterUnits="userSpaceOnUse"><feColorMatrix type="saturate" values="1.05"/></filter>
<filter id="pd11" x="345" y="211.6" width="190.5" height="108.9" filterUnits="userSpaceOnUse"><feTurbulence type="fractalNoise" baseFrequency="0.13" numOctaves="2" seed="61" result="t"/><feDisplacementMap in="SourceGraphic" in2="t" scale="3.5" xChannelSelector="R" yChannelSelector="G" result="d"/><feTurbulence type="fractalNoise" baseFrequency="0.7" numOctaves="1" seed="141" result="n"/><feColorMatrix in="n" type="matrix" values="0 0 0 0 0  0 0 0 0 0  0 0 0 0 0  -6 0 0 0 3.5" result="m"/><feComposite in="d" in2="m" operator="in" result="s"/><feGaussianBlur in="s" stdDeviation="0.7"/></filter>
<filter id="pm11" x="345" y="211.6" width="190.5" height="108.9" filterUnits="userSpaceOnUse"><feGaussianBlur stdDeviation="0.6"/></filter>
<g clip-path="url(#cp11)"><g filter="url(#ps11)"><rect x="355" y="221.6" width="170.5" height="88.9" fill="#e4e3ed"/>
<g filter="url(#pb11)">
<rect x="355" y="221.6" width="170.5" height="24.0" fill="#ede5e3" opacity="1"/>
<rect x="368" y="241.6" width="137" height="22.00000000000003" fill="#dfdcec" opacity="1"/>
<rect x="372" y="263.6" width="133" height="18.0" fill="#e6e6f0" opacity="1"/>
<rect x="372" y="279.6" width="133" height="14.0" fill="#dad8ea" opacity="1"/>
<rect x="355" y="289.6" width="170.5" height="20.899999999999977" fill="#ede5e3" opacity="1"/>
<rect x="505" y="261.6" width="20.5" height="48.89999999999998" fill="#e2d0c9" opacity="0.8"/>
</g>
<g filter="url(#pt11)">
<g fill="#c99d93" opacity="0.85">
<rect x="362.9" y="222" width="25.200000000000045" height="30" rx="7.6"/>
<rect x="390.9" y="220" width="18.200000000000045" height="21" rx="5.5"/>
<rect x="412.9" y="220" width="18.200000000000045" height="20" rx="5.5"/>
<rect x="440.9" y="220" width="18.200000000000045" height="20" rx="5.5"/>
<rect x="465.9" y="220" width="9.200000000000045" height="16" rx="2.8"/>
</g>
</g>
<g filter="url(#pd11)">
<g fill="#a66a5c" opacity="0.28">
<rect x="362.9" y="222" width="25.200000000000045" height="30" rx="7.6"/>
<rect x="390.9" y="220" width="18.200000000000045" height="21" rx="5.5"/>
<rect x="412.9" y="220" width="18.200000000000045" height="20" rx="5.5"/>
<rect x="440.9" y="220" width="18.200000000000045" height="20" rx="5.5"/>
<rect x="465.9" y="220" width="9.200000000000045" height="16" rx="2.8"/>
</g>
</g>
<g filter="url(#pm11)">
<g fill="#b9806c" opacity="0.6">
<circle cx="373.3" cy="255.8" r="0.7"/>
<circle cx="381.1" cy="254.9" r="0.7"/>
<circle cx="390.2" cy="250.9" r="1.1"/>
<circle cx="399.3" cy="253.0" r="0.7"/>
<circle cx="399.1" cy="250.4" r="0.7"/>
<circle cx="406.9" cy="250.0" r="1.2"/>
<circle cx="416.7" cy="249.9" r="1.1"/>
<circle cx="420.5" cy="249.9" r="0.9"/>
<circle cx="430.0" cy="249.3" r="0.9"/>
<circle cx="438.9" cy="248.7" r="1.2"/>
<circle cx="447.0" cy="250.2" r="0.7"/>
<circle cx="452.3" cy="250.8" r="1.3"/>
<circle cx="458.5" cy="248.4" r="0.9"/>
<circle cx="468.5" cy="250.5" r="0.7"/>
<circle cx="471.3" cy="249.6" r="1.0"/>
<circle cx="483.7" cy="251.2" r="1.0"/>
<circle cx="488.6" cy="251.7" r="1.0"/>
<circle cx="499.3" cy="253.6" r="1.3"/>
</g>
</g>
<g filter="url(#pd11)">
<g fill="#a66a5c" opacity="0.28">
<rect x="380.9" y="248" width="2.2000000000000455" height="4" rx="0.7"/>
<rect x="400.9" y="249" width="2.2000000000000455" height="4" rx="0.7"/>
<rect x="420.9" y="248" width="2.2000000000000455" height="4" rx="0.7"/>
<rect x="440.9" y="247" width="2.2000000000000455" height="4" rx="0.7"/>
</g>
</g>
<g filter="url(#pt11)">
<g fill="#c49689" opacity="0.85">
<rect x="370.9" y="292" width="14.200000000000045" height="21" rx="4.3"/>
<rect x="395.9" y="288" width="21.200000000000045" height="25" rx="6.4"/>
<rect x="420.9" y="290" width="18.200000000000045" height="23" rx="5.5"/>
<rect x="445.9" y="286" width="24.200000000000045" height="27" rx="7.3"/>
<rect x="475.9" y="292" width="13.200000000000045" height="21" rx="4.0"/>
</g>
</g>
<g filter="url(#pd11)">
<g fill="#a66a5c" opacity="0.28">
<rect x="370.9" y="292" width="14.200000000000045" height="21" rx="4.3"/>
<rect x="395.9" y="288" width="21.200000000000045" height="25" rx="6.4"/>
<rect x="420.9" y="290" width="18.200000000000045" height="23" rx="5.5"/>
<rect x="445.9" y="286" width="24.200000000000045" height="27" rx="7.3"/>
<rect x="475.9" y="292" width="13.200000000000045" height="21" rx="4.0"/>
</g>
</g>
</g></g>
<filter id="ib11" x="471.7" y="216.1" width="58.30000000000001" height="52.20000000000002" filterUnits="userSpaceOnUse"><feGaussianBlur stdDeviation="0.6"/></filter>
<clipPath id="ic11"><rect x="476.7" y="221.1" width="48.30000000000001" height="42.20000000000002"/></clipPath>
<rect x="476.7" y="221.1" width="48.30000000000001" height="42.20000000000002" fill="#c9cfe8"/>
<g clip-path="url(#ic11)"><g filter="url(#ib11)">
<g fill="#6a6aa8" opacity="0.55">
<ellipse cx="516.8" cy="236.7" rx="1.1" ry="0.9"/>
<ellipse cx="492.9" cy="251.9" rx="0.8" ry="0.6"/>
<ellipse cx="494.4" cy="251.3" rx="0.7" ry="0.8"/>
<ellipse cx="494.6" cy="230.2" rx="0.9" ry="0.7"/>
<ellipse cx="499.2" cy="256.0" rx="1.2" ry="0.6"/>
<ellipse cx="521.5" cy="246.3" rx="1.2" ry="0.8"/>
<ellipse cx="501.9" cy="233.2" rx="1.2" ry="0.9"/>
<ellipse cx="506.1" cy="228.3" rx="1.1" ry="0.8"/>
<ellipse cx="516.9" cy="259.4" rx="1.2" ry="0.8"/>
<ellipse cx="496.3" cy="243.4" rx="0.9" ry="0.8"/>
<ellipse cx="506.2" cy="254.0" rx="1.0" ry="0.8"/>
<ellipse cx="520.5" cy="252.8" rx="1.2" ry="0.8"/>
<ellipse cx="485.0" cy="239.3" rx="0.8" ry="0.6"/>
<ellipse cx="485.1" cy="228.1" rx="0.9" ry="0.8"/>
<ellipse cx="516.4" cy="259.1" rx="1.0" ry="0.5"/>
<ellipse cx="487.8" cy="226.2" rx="1.2" ry="0.7"/>
<ellipse cx="510.3" cy="240.4" rx="1.0" ry="0.8"/>
<ellipse cx="507.5" cy="226.8" rx="1.0" ry="0.7"/>
<ellipse cx="521.0" cy="233.8" rx="0.8" ry="0.9"/>
<ellipse cx="497.2" cy="227.1" rx="1.1" ry="0.9"/>
</g>
<path d="M478,250 Q500,240 522,236" fill="none" stroke="#8779b8" stroke-width="3" opacity="0.55"/>
<circle cx="490" cy="246" r="1" fill="#5a5a98" opacity="0.7"/>
<circle cx="500" cy="243" r="1" fill="#5a5a98" opacity="0.7"/>
<circle cx="510" cy="240" r="1" fill="#5a5a98" opacity="0.7"/>
<circle cx="495" cy="252" r="1" fill="#5a5a98" opacity="0.7"/>
<circle cx="515" cy="246" r="1" fill="#5a5a98" opacity="0.7"/>
</g></g>
<rect x="477.5" y="221.9" width="46.70000000000001" height="40.600000000000016" fill="none" stroke="#1e1e24" stroke-width="1.7"/>
<line x1="502" y1="304.6" x2="518.7" y2="304.6" stroke="#1e1e22" stroke-width="1.7"/>
<clipPath id="cp12"><rect x="526.5" y="221.6" width="170.0" height="88.9"/></clipPath>
<filter id="pb12" x="516.5" y="211.6" width="190.0" height="108.9" filterUnits="userSpaceOnUse"><feTurbulence type="fractalNoise" baseFrequency="0.12" numOctaves="2" seed="12" result="t"/><feDisplacementMap in="SourceGraphic" in2="t" scale="5" xChannelSelector="R" yChannelSelector="G" result="d"/><feGaussianBlur in="d" stdDeviation="2.0"/></filter>
<filter id="pt12" x="516.5" y="211.6" width="190.0" height="108.9" filterUnits="userSpaceOnUse"><feTurbulence type="fractalNoise" baseFrequency="0.13" numOctaves="2" seed="62" result="t"/><feDisplacementMap in="SourceGraphic" in2="t" scale="3.5" xChannelSelector="R" yChannelSelector="G" result="d"/><feTurbulence type="fractalNoise" baseFrequency="0.3" numOctaves="2" seed="102" result="n"/><feColorMatrix in="n" type="matrix" values="0 0 0 0 0  0 0 0 0 0  0 0 0 0 0  -2.6 0 0 0 2.45" result="m"/><feComposite in="d" in2="m" operator="in" result="s"/><feGaussianBlur in="s" stdDeviation="0.9"/></filter>
<filter id="ps12" x="516.5" y="211.6" width="190.0" height="108.9" filterUnits="userSpaceOnUse"><feColorMatrix type="saturate" values="1.05"/></filter>
<filter id="pd12" x="516.5" y="211.6" width="190.0" height="108.9" filterUnits="userSpaceOnUse"><feTurbulence type="fractalNoise" baseFrequency="0.13" numOctaves="2" seed="62" result="t"/><feDisplacementMap in="SourceGraphic" in2="t" scale="3.5" xChannelSelector="R" yChannelSelector="G" result="d"/><feTurbulence type="fractalNoise" baseFrequency="0.7" numOctaves="1" seed="142" result="n"/><feColorMatrix in="n" type="matrix" values="0 0 0 0 0  0 0 0 0 0  0 0 0 0 0  -6 0 0 0 3.5" result="m"/><feComposite in="d" in2="m" operator="in" result="s"/><feGaussianBlur in="s" stdDeviation="0.7"/></filter>
<filter id="pm12" x="516.5" y="211.6" width="190.0" height="108.9" filterUnits="userSpaceOnUse"><feGaussianBlur stdDeviation="0.6"/></filter>
<g clip-path="url(#cp12)"><g filter="url(#ps12)"><rect x="526.5" y="221.6" width="170.0" height="88.9" fill="#e7e5ed"/>
<g filter="url(#pb12)">
<rect x="526.5" y="221.6" width="170.0" height="28.0" fill="#e9e5ea" opacity="1"/>
<rect x="526.5" y="249.6" width="170.0" height="28.00000000000003" fill="#e6e5ef" opacity="1"/>
<path d="M545,300 Q610,262 685,290" fill="none" stroke="#dad7ea" stroke-width="16" opacity="1"/>
<path d="M540,312 Q610,282 690,312" fill="#ede5e3" stroke="none" stroke-width="0" opacity="1"/>
<rect x="676" y="261.6" width="20.5" height="40.0" fill="#e3d1c9" opacity="0.8"/>
</g>
<g filter="url(#pm12)">
<g fill="#b9806c" opacity="0.6">
<circle cx="553.0" cy="284.3" r="0.9"/>
<circle cx="559.2" cy="283.4" r="1.0"/>
<circle cx="562.3" cy="279.9" r="1.3"/>
<circle cx="569.5" cy="280.3" r="0.8"/>
<circle cx="576.0" cy="275.9" r="1.0"/>
<circle cx="578.9" cy="274.7" r="1.0"/>
<circle cx="587.7" cy="275.3" r="1.0"/>
<circle cx="594.7" cy="274.1" r="0.9"/>
<circle cx="598.4" cy="275.4" r="1.3"/>
<circle cx="601.3" cy="274.7" r="0.7"/>
<circle cx="609.6" cy="272.3" r="1.1"/>
<circle cx="617.7" cy="271.8" r="1.2"/>
<circle cx="620.3" cy="271.5" r="0.8"/>
<circle cx="629.4" cy="270.6" r="0.9"/>
<circle cx="636.1" cy="273.5" r="1.0"/>
<circle cx="640.8" cy="272.8" r="0.8"/>
<circle cx="644.0" cy="273.1" r="0.8"/>
<circle cx="652.1" cy="272.9" r="0.7"/>
<circle cx="655.3" cy="277.0" r="1.2"/>
<circle cx="664.8" cy="277.5" r="1.1"/>
<circle cx="667.9" cy="277.4" r="0.9"/>
<circle cx="676.3" cy="280.2" r="1.1"/>
</g>
<g fill="#b9806c" opacity="0.5">
<circle cx="559.5" cy="240.9" r="1.2"/>
<circle cx="580.4" cy="237.3" r="0.8"/>
<circle cx="585.7" cy="237.0" r="1.1"/>
<circle cx="593.3" cy="238.6" r="0.8"/>
<circle cx="604.8" cy="238.2" r="0.8"/>
<circle cx="618.9" cy="237.7" r="0.7"/>
<circle cx="630.1" cy="239.7" r="1.0"/>
<circle cx="630.4" cy="239.5" r="1.2"/>
</g>
</g>
<g filter="url(#pt12)">
<g fill="#c69c91" opacity="0.8">
<rect x="530.9" y="220" width="14.200000000000045" height="26" rx="4.3"/>
<rect x="548.9" y="220" width="8.200000000000045" height="20" rx="2.5"/>
</g>
</g>
<g filter="url(#pd12)">
<g fill="#a66a5c" opacity="0.28">
<rect x="530.9" y="220" width="14.200000000000045" height="26" rx="4.3"/>
<rect x="548.9" y="220" width="8.200000000000045" height="20" rx="2.5"/>
</g>
</g>
<g filter="url(#pt12)">
<g fill="#c49689" opacity="0.85">
<rect x="545.9" y="294" width="13.200000000000045" height="19" rx="4.0"/>
<rect x="565.9" y="290" width="15.200000000000045" height="23" rx="4.6"/>
<rect x="600.9" y="285" width="13.200000000000045" height="28" rx="4.0"/>
<rect x="618.9" y="284" width="16.200000000000045" height="29" rx="4.9"/>
<rect x="640.9" y="288" width="10.200000000000045" height="25" rx="3.1"/>
<rect x="655.9" y="290" width="11.200000000000045" height="23" rx="3.4"/>
<rect x="675.9" y="294" width="13.200000000000045" height="19" rx="4.0"/>
</g>
</g>
<g filter="url(#pd12)">
<g fill="#a66a5c" opacity="0.28">
<rect x="545.9" y="294" width="13.200000000000045" height="19" rx="4.0"/>
<rect x="565.9" y="290" width="15.200000000000045" height="23" rx="4.6"/>
<rect x="600.9" y="285" width="13.200000000000045" height="28" rx="4.0"/>
<rect x="618.9" y="284" width="16.200000000000045" height="29" rx="4.9"/>
<rect x="640.9" y="288" width="10.200000000000045" height="25" rx="3.1"/>
<rect x="655.9" y="290" width="11.200000000000045" height="23" rx="3.4"/>
<rect x="675.9" y="294" width="13.200000000000045" height="19" rx="4.0"/>
</g>
</g>
</g></g>
<filter id="ib12" x="643.7" y="216.1" width="57.59999999999991" height="52.20000000000002" filterUnits="userSpaceOnUse"><feGaussianBlur stdDeviation="0.6"/></filter>
<clipPath id="ic12"><rect x="648.7" y="221.1" width="47.59999999999991" height="42.20000000000002"/></clipPath>
<rect x="648.7" y="221.1" width="47.59999999999991" height="42.20000000000002" fill="#d9d5ef"/>
<g clip-path="url(#ic12)"><g filter="url(#ib12)">
<path d="M652,248 L668,262" fill="none" stroke="#d8a8d8" stroke-width="8" opacity="0.7"/>
<path d="M655,228 L668,240 M668,234 Q680,230 692,234 M660,250 L672,258" fill="none" stroke="#a878c8" stroke-width="3" opacity="0.6"/>
<g fill="#9060a8" opacity="0.6">
<ellipse cx="681.3" cy="256.7" rx="0.8" ry="1.1"/>
<ellipse cx="685.9" cy="226.2" rx="1.4" ry="1.0"/>
<ellipse cx="659.5" cy="259.3" rx="1.1" ry="0.9"/>
<ellipse cx="678.9" cy="249.1" rx="1.3" ry="0.8"/>
<ellipse cx="671.8" cy="229.1" rx="1.0" ry="0.9"/>
<ellipse cx="654.8" cy="236.7" rx="1.4" ry="0.7"/>
<ellipse cx="669.7" cy="225.5" rx="1.3" ry="0.7"/>
<ellipse cx="659.3" cy="251.1" rx="1.1" ry="0.9"/>
<ellipse cx="677.0" cy="242.1" rx="1.1" ry="0.7"/>
<ellipse cx="657.6" cy="231.5" rx="1.0" ry="0.8"/>
<ellipse cx="688.8" cy="231.8" rx="0.9" ry="0.8"/>
<ellipse cx="657.2" cy="254.1" rx="1.5" ry="1.0"/>
</g>
<circle cx="665" cy="245" r="1.5" fill="#7a4890" opacity="0.8"/>
<circle cx="668" cy="252" r="1.5" fill="#7a4890" opacity="0.8"/>
</g></g>
<rect x="649.5" y="221.9" width="45.99999999999991" height="40.600000000000016" fill="none" stroke="#1e1e24" stroke-width="1.7"/>
<line x1="672" y1="304.3" x2="688.8" y2="304.3" stroke="#1e1e22" stroke-width="1.7"/>
<text x="9" y="16" font-size="21" font-weight="bold" text-anchor="middle" fill="#000">A</text>
<text x="358.5" y="16.2" font-size="21" font-weight="bold" text-anchor="middle" fill="#000">C</text>
<line x1="11.5" y1="25.1" x2="353" y2="25.1" stroke="#757575" stroke-width="1.3"/>
<line x1="356.5" y1="25.1" x2="698" y2="25.1" stroke="#757575" stroke-width="1.3"/>
<text x="186.5" y="21" font-size="12.5" font-weight="bold" text-anchor="middle" fill="#000">P21</text>
<text x="528.5" y="21" font-size="12.5" font-weight="bold" text-anchor="middle" fill="#000">P16</text>
<text x="99" y="38.5" font-size="13" font-weight="bold" text-anchor="middle" fill="#000">Control</text>
<text x="268.5" y="38.8" font-size="13" font-weight="bold" text-anchor="middle" fill="#000">Tam X 3</text>
<text x="440.5" y="39.2" font-size="13" font-weight="bold" text-anchor="middle" fill="#000">Control</text>
<text x="611" y="39" font-size="13" font-weight="bold" text-anchor="middle" fill="#000">Tam X 3</text>
<text x="13" y="86" font-size="12.5" font-weight="bold" text-anchor="middle" fill="#000" transform="rotate(-90 13 86)">5M</text>
<text x="13" y="176.5" font-size="12.5" font-weight="bold" text-anchor="middle" fill="#000" transform="rotate(-90 13 176.5)">7M</text>
<text x="13" y="266.5" font-size="12.5" font-weight="bold" text-anchor="middle" fill="#000" transform="rotate(-90 13 266.5)">10M</text>
<text x="8.5" y="331.4" font-size="21" font-weight="bold" text-anchor="middle" fill="#000">B</text>
<text x="357.3" y="331.6" font-size="21" font-weight="bold" text-anchor="middle" fill="#000">D</text>
<text x="7.5" y="500" font-size="21" font-weight="bold" text-anchor="middle" fill="#000">E</text>
<rect x="0" y="612" width="700" height="36" fill="url(#bot)"/>
<text x="90" y="333.5" font-size="10" font-weight="normal" text-anchor="middle" fill="#222" stroke="#222" stroke-width="0.4">5M</text>
<text x="46.6" y="392" font-size="10.5" font-weight="normal" text-anchor="middle" fill="#222" transform="rotate(-90 46.6 392)" stroke="#222" stroke-width="0.35">pos.cells (%)</text>
<line x1="59.8" y1="438.0" x2="62.8" y2="438.0" stroke="#2a2a2a" stroke-width="1"/>
<text x="58.8" y="440.3" font-size="6.5" font-weight="bold" text-anchor="end" fill="#222" stroke="#222" stroke-width="0.25">0</text>
<line x1="59.8" y1="415.9" x2="62.8" y2="415.9" stroke="#2a2a2a" stroke-width="1"/>
<text x="58.8" y="418.2" font-size="6.5" font-weight="bold" text-anchor="end" fill="#222" stroke="#222" stroke-width="0.25">10</text>
<line x1="59.8" y1="393.8" x2="62.8" y2="393.8" stroke="#2a2a2a" stroke-width="1"/>
<text x="58.8" y="396.1" font-size="6.5" font-weight="bold" text-anchor="end" fill="#222" stroke="#222" stroke-width="0.25">20</text>
<line x1="59.8" y1="371.70000000000005" x2="62.8" y2="371.70000000000005" stroke="#2a2a2a" stroke-width="1"/>
<text x="58.8" y="374.00000000000006" font-size="6.5" font-weight="bold" text-anchor="end" fill="#222" stroke="#222" stroke-width="0.25">30</text>
<line x1="59.8" y1="349.6" x2="62.8" y2="349.6" stroke="#2a2a2a" stroke-width="1"/>
<text x="58.8" y="351.90000000000003" font-size="6.5" font-weight="bold" text-anchor="end" fill="#222" stroke="#222" stroke-width="0.25">40</text>
<rect x="71.80000000000001" y="433.801" width="16.2" height="4.199000000000012" fill="#fff" stroke="#c8c8c8" stroke-width="1"/>
<line x1="79.9" y1="436.674" x2="79.9" y2="430.928" stroke="#444" stroke-width="0.8"/>
<line x1="75.9" y1="436.674" x2="83.9" y2="436.674" stroke="#444" stroke-width="0.8"/>
<line x1="75.9" y1="430.928" x2="83.9" y2="430.928" stroke="#444" stroke-width="0.8"/>
<circle cx="79.9" cy="430.486" r="1.6" fill="#111"/>
<circle cx="75.9" cy="435.127" r="1.6" fill="#111"/>
<circle cx="83.9" cy="435.127" r="1.6" fill="#111"/>
<circle cx="79.9" cy="435.79" r="1.6" fill="#111"/>
<circle cx="79.9" cy="436.674" r="1.6" fill="#111"/>
<rect x="97.0" y="387.17" width="16.2" height="50.829999999999984" fill="#fff" stroke="#c8c8c8" stroke-width="1"/>
<line x1="105.1" y1="404.408" x2="105.1" y2="368.164" stroke="#d9c9c9" stroke-width="0.8"/>
<line x1="101.1" y1="404.408" x2="109.1" y2="404.408" stroke="#d9c9c9" stroke-width="0.8"/>
<line x1="101.1" y1="368.164" x2="109.1" y2="368.164" stroke="#d9c9c9" stroke-width="0.8"/>
<path d="M103.3,361.95000000000005 L106.89999999999999,361.95000000000005 L105.1,358.85 Z" fill="#c9474c"/>
<path d="M99.8,385.15500000000003 L103.39999999999999,385.15500000000003 L101.6,382.055 Z" fill="#c9474c"/>
<path d="M106.8,385.15500000000003 L110.39999999999999,385.15500000000003 L108.6,382.055 Z" fill="#c9474c"/>
<path d="M103.3,400.625 L106.89999999999999,400.625 L105.1,397.525 Z" fill="#c9474c"/>
<path d="M103.3,408.139 L106.89999999999999,408.139 L105.1,405.039 Z" fill="#c9474c"/>
<path d="M62.8,349.6 V438 H122.5" fill="none" stroke="#2a2a2a" stroke-width="1.1"/>
<line x1="79.9" y1="438" x2="79.9" y2="441.5" stroke="#2a2a2a" stroke-width="1.2"/>
<line x1="105.1" y1="438" x2="105.1" y2="441.5" stroke="#2a2a2a" stroke-width="1.2"/>
<text x="81.4" y="448" font-size="11" font-weight="normal" text-anchor="end" fill="#222" transform="rotate(-45 81.4 448)" stroke="#222" stroke-width="0.35">Control</text>
<text x="106.6" y="448" font-size="11" font-weight="normal" text-anchor="end" fill="#222" transform="rotate(-45 106.6 448)" stroke="#222" stroke-width="0.35">TamX3</text>
<path d="M79.9,428 V349.6 H105.1 V354.5" fill="none" stroke="#2a2a2a" stroke-width="1.1"/>
<circle cx="90.0" cy="343.6" r="2" fill="#111"/>
<circle cx="95.0" cy="343.6" r="2" fill="#111"/>
<text x="201" y="333.5" font-size="10" font-weight="normal" text-anchor="middle" fill="#222" stroke="#222" stroke-width="0.4">7M</text>
<text x="155.1" y="392" font-size="10.5" font-weight="normal" text-anchor="middle" fill="#222" transform="rotate(-90 155.1 392)" stroke="#222" stroke-width="0.35">pos.cells (%)</text>
<line x1="168.3" y1="438.0" x2="171.3" y2="438.0" stroke="#2a2a2a" stroke-width="1"/>
<text x="167.3" y="440.3" font-size="6.5" font-weight="bold" text-anchor="end" fill="#222" stroke="#222" stroke-width="0.25">0</text>
<line x1="168.3" y1="415.5" x2="171.3" y2="415.5" stroke="#2a2a2a" stroke-width="1"/>
<text x="167.3" y="417.8" font-size="6.5" font-weight="bold" text-anchor="end" fill="#222" stroke="#222" stroke-width="0.25">10</text>
<line x1="168.3" y1="393.0" x2="171.3" y2="393.0" stroke="#2a2a2a" stroke-width="1"/>
<text x="167.3" y="395.3" font-size="6.5" font-weight="bold" text-anchor="end" fill="#222" stroke="#222" stroke-width="0.25">20</text>
<line x1="168.3" y1="370.5" x2="171.3" y2="370.5" stroke="#2a2a2a" stroke-width="1"/>
<text x="167.3" y="372.8" font-size="6.5" font-weight="bold" text-anchor="end" fill="#222" stroke="#222" stroke-width="0.25">30</text>
<line x1="168.3" y1="348.0" x2="171.3" y2="348.0" stroke="#2a2a2a" stroke-width="1"/>
<text x="167.3" y="350.3" font-size="6.5" font-weight="bold" text-anchor="end" fill="#222" stroke="#222" stroke-width="0.25">40</text>
<rect x="180.5" y="432.375" width="16.2" height="5.625" fill="#fff" stroke="#c8c8c8" stroke-width="1"/>
<line x1="188.6" y1="435.3" x2="188.6" y2="428.55" stroke="#444" stroke-width="0.8"/>
<line x1="184.6" y1="435.3" x2="192.6" y2="435.3" stroke="#444" stroke-width="0.8"/>
<line x1="184.6" y1="428.55" x2="192.6" y2="428.55" stroke="#444" stroke-width="0.8"/>
<circle cx="184.1" cy="427.65" r="1.7" fill="#111"/>
<circle cx="188.6" cy="432.375" r="1.7" fill="#111"/>
<circle cx="194.1" cy="428.1" r="1.7" fill="#111"/>
<circle cx="188.6" cy="435.3" r="1.7" fill="#111"/>
<circle cx="194.6" cy="433.5" r="1.7" fill="#111"/>
<rect x="206.4" y="368.925" width="16.2" height="69.07499999999999" fill="#fff" stroke="#c8c8c8" stroke-width="1"/>
<line x1="214.5" y1="378.375" x2="214.5" y2="354.75" stroke="#d9c9c9" stroke-width="0.8"/>
<line x1="210.5" y1="378.375" x2="218.5" y2="378.375" stroke="#d9c9c9" stroke-width="0.8"/>
<line x1="210.5" y1="354.75" x2="218.5" y2="354.75" stroke="#d9c9c9" stroke-width="0.8"/>
<path d="M212.7,360.55 L216.3,360.55 L214.5,357.45 Z" fill="#c9474c"/>
<path d="M209.7,367.3 L213.3,367.3 L211.5,364.2 Z" fill="#c9474c"/>
<path d="M215.7,367.3 L219.3,367.3 L217.5,364.2 Z" fill="#c9474c"/>
<path d="M213.7,370.0 L217.3,370.0 L215.5,366.9 Z" fill="#c9474c"/>
<path d="M212.7,386.2 L216.3,386.2 L214.5,383.09999999999997 Z" fill="#c9474c"/>
<path d="M171.3,348 V438 H232.6" fill="none" stroke="#2a2a2a" stroke-width="1.1"/>
<line x1="188.6" y1="438" x2="188.6" y2="441.5" stroke="#2a2a2a" stroke-width="1.2"/>
<line x1="214.5" y1="438" x2="214.5" y2="441.5" stroke="#2a2a2a" stroke-width="1.2"/>
<text x="190.1" y="448" font-size="11" font-weight="normal" text-anchor="end" fill="#222" transform="rotate(-45 190.1 448)" stroke="#222" stroke-width="0.35">Control</text>
<text x="216.0" y="448" font-size="11" font-weight="normal" text-anchor="end" fill="#222" transform="rotate(-45 216.0 448)" stroke="#222" stroke-width="0.35">TamX3</text>
<path d="M188.6,422 V348.2 H214.5 V354" fill="none" stroke="#2a2a2a" stroke-width="1.1"/>
<circle cx="199.05" cy="342.2" r="2" fill="#111"/>
<circle cx="204.05" cy="342.2" r="2" fill="#111"/>
<text x="302.3" y="333.5" font-size="10" font-weight="normal" text-anchor="middle" fill="#222" stroke="#222" stroke-width="0.4">10M</text>
<text x="258.1" y="391" font-size="10.5" font-weight="normal" text-anchor="middle" fill="#222" transform="rotate(-90 258.1 391)" stroke="#222" stroke-width="0.35">pos.cells (%)</text>
<line x1="271.3" y1="437.0" x2="274.3" y2="437.0" stroke="#2a2a2a" stroke-width="1"/>
<text x="270.3" y="439.3" font-size="6.5" font-weight="bold" text-anchor="end" fill="#222" stroke="#222" stroke-width="0.25">0</text>
<line x1="271.3" y1="407.1" x2="274.3" y2="407.1" stroke="#2a2a2a" stroke-width="1"/>
<text x="270.3" y="409.40000000000003" font-size="6.5" font-weight="bold" text-anchor="end" fill="#222" stroke="#222" stroke-width="0.25">10</text>
<line x1="271.3" y1="377.2" x2="274.3" y2="377.2" stroke="#2a2a2a" stroke-width="1"/>
<text x="270.3" y="379.5" font-size="6.5" font-weight="bold" text-anchor="end" fill="#222" stroke="#222" stroke-width="0.25">20</text>
<line x1="271.3" y1="347.3" x2="274.3" y2="347.3" stroke="#2a2a2a" stroke-width="1"/>
<text x="270.3" y="349.6" font-size="6.5" font-weight="bold" text-anchor="end" fill="#222" stroke="#222" stroke-width="0.25">30</text>
<rect x="283.09999999999997" y="430.721" width="16.2" height="6.278999999999996" fill="#fff" stroke="#c8c8c8" stroke-width="1"/>
<line x1="291.2" y1="434.01" x2="291.2" y2="427.133" stroke="#444" stroke-width="0.8"/>
<line x1="287.2" y1="434.01" x2="295.2" y2="434.01" stroke="#444" stroke-width="0.8"/>
<line x1="287.2" y1="427.133" x2="295.2" y2="427.133" stroke="#444" stroke-width="0.8"/>
<circle cx="288.2" cy="427.133" r="1.7" fill="#111"/>
<circle cx="292.8" cy="427.133" r="1.7" fill="#111"/>
<circle cx="297.5" cy="428.927" r="1.7" fill="#111"/>
<circle cx="289.2" cy="433.412" r="1.7" fill="#111"/>
<circle cx="296.2" cy="433.113" r="1.7" fill="#111"/>
<rect x="309.0" y="368.23" width="16.2" height="68.76999999999998" fill="#fff" stroke="#c8c8c8" stroke-width="1"/>
<line x1="317.1" y1="377.2" x2="317.1" y2="359.26" stroke="#d9c9c9" stroke-width="0.8"/>
<line x1="313.1" y1="377.2" x2="321.1" y2="377.2" stroke="#d9c9c9" stroke-width="0.8"/>
<line x1="313.1" y1="359.26" x2="321.1" y2="359.26" stroke="#d9c9c9" stroke-width="0.8"/>
<path d="M315.3,360.261 L318.90000000000003,360.261 L317.1,357.161 Z" fill="#c9474c"/>
<path d="M312.3,361.158 L315.90000000000003,361.158 L314.1,358.058 Z" fill="#c9474c"/>
<path d="M318.3,363.55 L321.90000000000003,363.55 L320.1,360.45 Z" fill="#c9474c"/>
<path d="M315.3,374.01500000000004 L318.90000000000003,374.01500000000004 L317.1,370.915 Z" fill="#c9474c"/>
<path d="M315.3,378.5 L318.90000000000003,378.5 L317.1,375.4 Z" fill="#c9474c"/>
<path d="M274.3,347.3 V437 H333.3" fill="none" stroke="#2a2a2a" stroke-width="1.1"/>
<line x1="291.2" y1="437" x2="291.2" y2="440.5" stroke="#2a2a2a" stroke-width="1.2"/>
<line x1="317.1" y1="437" x2="317.1" y2="440.5" stroke="#2a2a2a" stroke-width="1.2"/>
<text x="292.7" y="447" font-size="11" font-weight="normal" text-anchor="end" fill="#222" transform="rotate(-45 292.7 447)" stroke="#222" stroke-width="0.35">Control</text>
<text x="318.6" y="447" font-size="11" font-weight="normal" text-anchor="end" fill="#222" transform="rotate(-45 318.6 447)" stroke="#222" stroke-width="0.35">TamX3</text>
<path d="M291.2,424 V347.5 H317.1 V353" fill="none" stroke="#2a2a2a" stroke-width="1.1"/>
<circle cx="301.65" cy="341.5" r="2" fill="#111"/>
<circle cx="306.65" cy="341.5" r="2" fill="#111"/>
<text x="426.5" y="334.5" font-size="10" font-weight="normal" text-anchor="middle" fill="#222" stroke="#222" stroke-width="0.4">5M</text>
<text x="383.5" y="390.5" font-size="10.5" font-weight="normal" text-anchor="middle" fill="#222" transform="rotate(-90 383.5 390.5)" stroke="#222" stroke-width="0.35">pos.cells (%)</text>
<line x1="395.4" y1="438.2" x2="398.4" y2="438.2" stroke="#2a2a2a" stroke-width="1"/>
<text x="394.4" y="440.5" font-size="6.5" font-weight="bold" text-anchor="end" fill="#222" stroke="#222" stroke-width="0.25">0</text>
<line x1="395.4" y1="407.26666666666665" x2="398.4" y2="407.26666666666665" stroke="#2a2a2a" stroke-width="1"/>
<text x="394.4" y="409.56666666666666" font-size="6.5" font-weight="bold" text-anchor="end" fill="#222" stroke="#222" stroke-width="0.25">20</text>
<line x1="395.4" y1="376.3333333333333" x2="398.4" y2="376.3333333333333" stroke="#2a2a2a" stroke-width="1"/>
<text x="394.4" y="378.6333333333333" font-size="6.5" font-weight="bold" text-anchor="end" fill="#222" stroke="#222" stroke-width="0.25">40</text>
<line x1="395.4" y1="345.4" x2="398.4" y2="345.4" stroke="#2a2a2a" stroke-width="1"/>
<text x="394.4" y="347.7" font-size="6.5" font-weight="bold" text-anchor="end" fill="#222" stroke="#222" stroke-width="0.25">60</text>
<rect x="407.3" y="425.05333333333334" width="17.4" height="13.146666666666647" fill="#fff" stroke="#c8c8c8" stroke-width="1"/>
<line x1="416" y1="434.17866666666663" x2="416" y2="415.1546666666666" stroke="#444" stroke-width="0.8"/>
<line x1="412" y1="434.17866666666663" x2="420" y2="434.17866666666663" stroke="#444" stroke-width="0.8"/>
<line x1="412" y1="415.1546666666666" x2="420" y2="415.1546666666666" stroke="#444" stroke-width="0.8"/>
<circle cx="416" cy="409.89599999999996" r="2.0" fill="#111"/>
<circle cx="412.5" cy="425.67199999999997" r="2.0" fill="#111"/>
<circle cx="419.8" cy="424.43466666666666" r="2.0" fill="#111"/>
<circle cx="420.5" cy="428.45599999999996" r="2.0" fill="#111"/>
<circle cx="416" cy="436.4986666666667" r="2.0" fill="#111"/>
<rect x="433.8" y="399.5333333333333" width="17.4" height="38.666666666666686" fill="#fff" stroke="#c8c8c8" stroke-width="1"/>
<line x1="442.5" y1="411.5973333333333" x2="442.5" y2="386.38666666666666" stroke="#d9c9c9" stroke-width="0.8"/>
<line x1="438.5" y1="411.5973333333333" x2="446.5" y2="411.5973333333333" stroke="#d9c9c9" stroke-width="0.8"/>
<line x1="438.5" y1="386.38666666666666" x2="446.5" y2="386.38666666666666" stroke="#d9c9c9" stroke-width="0.8"/>
<path d="M440.7,387.68666666666667 L444.3,387.68666666666667 L442.5,384.58666666666664 Z" fill="#c9474c"/>
<path d="M437.2,397.276 L440.8,397.276 L439.0,394.176 Z" fill="#c9474c"/>
<path d="M445.3,395.72933333333333 L448.90000000000003,395.72933333333333 L447.1,392.6293333333333 Z" fill="#c9474c"/>
<path d="M440.7,405.3186666666667 L444.3,405.3186666666667 L442.5,402.21866666666665 Z" fill="#c9474c"/>
<path d="M440.7,420.476 L444.3,420.476 L442.5,417.376 Z" fill="#c9474c"/>
<path d="M398.4,345.4 V438.2 H460" fill="none" stroke="#2a2a2a" stroke-width="1.1"/>
<line x1="416" y1="438.2" x2="416" y2="441.7" stroke="#2a2a2a" stroke-width="1.2"/>
<line x1="442.5" y1="438.2" x2="442.5" y2="441.7" stroke="#2a2a2a" stroke-width="1.2"/>
<text x="417.5" y="448.2" font-size="11" font-weight="normal" text-anchor="end" fill="#222" transform="rotate(-45 417.5 448.2)" stroke="#222" stroke-width="0.35">Control</text>
<text x="444.0" y="448.2" font-size="11" font-weight="normal" text-anchor="end" fill="#222" transform="rotate(-45 444.0 448.2)" stroke="#222" stroke-width="0.35">TamX3</text>
<path d="M416,406 V374.6 H442.5 V380" fill="none" stroke="#2a2a2a" stroke-width="1.1"/>
<circle cx="426.4" cy="368.6" r="2.3" fill="#111"/>
<circle cx="432.1" cy="368.6" r="2.3" fill="#111"/>
<text x="534.4" y="334" font-size="10" font-weight="normal" text-anchor="middle" fill="#222" stroke="#222" stroke-width="0.4">7M</text>
<text x="490.5" y="393" font-size="10.5" font-weight="normal" text-anchor="middle" fill="#222" transform="rotate(-90 490.5 393)" stroke="#222" stroke-width="0.35">pos.cells (%)</text>
<line x1="503.1" y1="438.3" x2="506.1" y2="438.3" stroke="#2a2a2a" stroke-width="1"/>
<text x="502.1" y="440.6" font-size="6.5" font-weight="bold" text-anchor="end" fill="#222" stroke="#222" stroke-width="0.25">0</text>
<line x1="503.1" y1="407.93333333333334" x2="506.1" y2="407.93333333333334" stroke="#2a2a2a" stroke-width="1"/>
<text x="502.1" y="410.23333333333335" font-size="6.5" font-weight="bold" text-anchor="end" fill="#222" stroke="#222" stroke-width="0.25">20</text>
<line x1="503.1" y1="377.56666666666666" x2="506.1" y2="377.56666666666666" stroke="#2a2a2a" stroke-width="1"/>
<text x="502.1" y="379.8666666666667" font-size="6.5" font-weight="bold" text-anchor="end" fill="#222" stroke="#222" stroke-width="0.25">40</text>
<line x1="503.1" y1="347.2" x2="506.1" y2="347.2" stroke="#2a2a2a" stroke-width="1"/>
<text x="502.1" y="349.5" font-size="6.5" font-weight="bold" text-anchor="end" fill="#222" stroke="#222" stroke-width="0.25">60</text>
<rect x="515.0" y="417.04333333333335" width="17.8" height="21.25666666666666" fill="#fff" stroke="#c8c8c8" stroke-width="1"/>
<line x1="523.9" y1="431.16383333333334" x2="523.9" y2="402.92283333333336" stroke="#444" stroke-width="0.8"/>
<line x1="519.9" y1="431.16383333333334" x2="527.9" y2="431.16383333333334" stroke="#444" stroke-width="0.8"/>
<line x1="519.9" y1="402.92283333333336" x2="527.9" y2="402.92283333333336" stroke="#444" stroke-width="0.8"/>
<circle cx="523.9" cy="393.0536666666667" r="2.0" fill="#111"/>
<circle cx="523.9" cy="415.525" r="2.0" fill="#111"/>
<circle cx="524.4" cy="420.68733333333336" r="2.0" fill="#111"/>
<circle cx="520.5" cy="429.03816666666665" r="2.0" fill="#111"/>
<circle cx="527.9" cy="427.21616666666665" r="2.0" fill="#111"/>
<rect x="541.0" y="409.45166666666665" width="17.8" height="28.848333333333358" fill="#fff" stroke="#c8c8c8" stroke-width="1"/>
<line x1="549.9" y1="421.29466666666667" x2="549.9" y2="398.8233333333333" stroke="#d9c9c9" stroke-width="0.8"/>
<line x1="545.9" y1="421.29466666666667" x2="553.9" y2="421.29466666666667" stroke="#d9c9c9" stroke-width="0.8"/>
<line x1="545.9" y1="398.8233333333333" x2="553.9" y2="398.8233333333333" stroke="#d9c9c9" stroke-width="0.8"/>
<path d="M544.6,400.12333333333333 L548.1999999999999,400.12333333333333 L546.4,397.0233333333333 Z" fill="#c9474c"/>
<path d="M552.7,401.1861666666667 L556.3,401.1861666666667 L554.5,398.08616666666666 Z" fill="#c9474c"/>
<path d="M548.1,410.75166666666667 L551.6999999999999,410.75166666666667 L549.9,407.65166666666664 Z" fill="#c9474c"/>
<path d="M548.1,419.25433333333336 L551.6999999999999,419.25433333333336 L549.9,416.15433333333334 Z" fill="#c9474c"/>
<path d="M548.1,425.6313333333334 L551.6999999999999,425.6313333333334 L549.9,422.53133333333335 Z" fill="#c9474c"/>
<path d="M506.1,347.2 V438.3 H567.2" fill="none" stroke="#2a2a2a" stroke-width="1.1"/>
<line x1="523.9" y1="438.3" x2="523.9" y2="441.8" stroke="#2a2a2a" stroke-width="1.2"/>
<line x1="549.9" y1="438.3" x2="549.9" y2="441.8" stroke="#2a2a2a" stroke-width="1.2"/>
<text x="525.4" y="448.3" font-size="11" font-weight="normal" text-anchor="end" fill="#222" transform="rotate(-45 525.4 448.3)" stroke="#222" stroke-width="0.35">Control</text>
<text x="551.4" y="448.3" font-size="11" font-weight="normal" text-anchor="end" fill="#222" transform="rotate(-45 551.4 448.3)" stroke="#222" stroke-width="0.35">TamX3</text>
<text x="650.4" y="334.5" font-size="10" font-weight="normal" text-anchor="middle" fill="#222" stroke="#222" stroke-width="0.4">10M</text>
<text x="604" y="393" font-size="10.5" font-weight="normal" text-anchor="middle" fill="#222" transform="rotate(-90 604 393)" stroke="#222" stroke-width="0.35">pos.cells (%)</text>
<line x1="617" y1="439.8" x2="620" y2="439.8" stroke="#2a2a2a" stroke-width="1"/>
<text x="616" y="442.1" font-size="6.5" font-weight="bold" text-anchor="end" fill="#222" stroke="#222" stroke-width="0.25">0</text>
<line x1="617" y1="409.76666666666665" x2="620" y2="409.76666666666665" stroke="#2a2a2a" stroke-width="1"/>
<text x="616" y="412.06666666666666" font-size="6.5" font-weight="bold" text-anchor="end" fill="#222" stroke="#222" stroke-width="0.25">20</text>
<line x1="617" y1="379.73333333333335" x2="620" y2="379.73333333333335" stroke="#2a2a2a" stroke-width="1"/>
<text x="616" y="382.03333333333336" font-size="6.5" font-weight="bold" text-anchor="end" fill="#222" stroke="#222" stroke-width="0.25">40</text>
<line x1="617" y1="349.7" x2="620" y2="349.7" stroke="#2a2a2a" stroke-width="1"/>
<text x="616" y="352.0" font-size="6.5" font-weight="bold" text-anchor="end" fill="#222" stroke="#222" stroke-width="0.25">60</text>
<rect x="630.1" y="424.0325" width="16.8" height="15.767499999999984" fill="#fff" stroke="#c8c8c8" stroke-width="1"/>
<line x1="638.5" y1="427.7866666666667" x2="638.5" y2="420.27833333333336" stroke="#444" stroke-width="0.8"/>
<line x1="634.5" y1="427.7866666666667" x2="642.5" y2="427.7866666666667" stroke="#444" stroke-width="0.8"/>
<line x1="634.5" y1="420.27833333333336" x2="642.5" y2="420.27833333333336" stroke="#444" stroke-width="0.8"/>
<circle cx="631.0" cy="421.78000000000003" r="2.0" fill="#111"/>
<circle cx="638.5" cy="421.78000000000003" r="2.0" fill="#111"/>
<circle cx="645.7" cy="422.53083333333336" r="2.0" fill="#111"/>
<circle cx="638.5" cy="426.285" r="2.0" fill="#111"/>
<circle cx="638.5" cy="429.28833333333336" r="2.0" fill="#111"/>
<rect x="656.0" y="390.245" width="16.8" height="49.55500000000001" fill="#fff" stroke="#c8c8c8" stroke-width="1"/>
<line x1="664.4" y1="406.7633333333333" x2="664.4" y2="375.22833333333335" stroke="#d9c9c9" stroke-width="0.8"/>
<line x1="660.4" y1="406.7633333333333" x2="668.4" y2="406.7633333333333" stroke="#d9c9c9" stroke-width="0.8"/>
<line x1="660.4" y1="375.22833333333335" x2="668.4" y2="375.22833333333335" stroke="#d9c9c9" stroke-width="0.8"/>
<path d="M662.6,376.97883333333334 L666.1999999999999,376.97883333333334 L664.4,373.8788333333333 Z" fill="#c9474c"/>
<path d="M662.6,381.18350000000004 L666.1999999999999,381.18350000000004 L664.4,378.0835 Z" fill="#c9474c"/>
<path d="M662.6,394.54833333333335 L666.1999999999999,394.54833333333335 L664.4,391.4483333333333 Z" fill="#c9474c"/>
<path d="M662.6,399.8041666666667 L666.1999999999999,399.8041666666667 L664.4,396.70416666666665 Z" fill="#c9474c"/>
<path d="M662.6,416.47266666666667 L666.1999999999999,416.47266666666667 L664.4,413.37266666666665 Z" fill="#c9474c"/>
<path d="M620,349.7 V439.8 H681.2" fill="none" stroke="#2a2a2a" stroke-width="1.1"/>
<line x1="638.5" y1="439.8" x2="638.5" y2="443.3" stroke="#2a2a2a" stroke-width="1.2"/>
<line x1="664.4" y1="439.8" x2="664.4" y2="443.3" stroke="#2a2a2a" stroke-width="1.2"/>
<text x="640.0" y="449.8" font-size="11" font-weight="normal" text-anchor="end" fill="#222" transform="rotate(-45 640.0 449.8)" stroke="#222" stroke-width="0.35">Control</text>
<text x="665.9" y="449.8" font-size="11" font-weight="normal" text-anchor="end" fill="#222" transform="rotate(-45 665.9 449.8)" stroke="#222" stroke-width="0.35">TamX3</text>
<path d="M638.5,412 V362.5 H664.4 V368" fill="none" stroke="#2a2a2a" stroke-width="1.1"/>
<circle cx="648.6" cy="356.5" r="2.3" fill="#111"/>
<circle cx="654.3000000000001" cy="356.5" r="2.3" fill="#111"/>
<text x="166.8" y="504.3" font-size="10.5" font-weight="normal" text-anchor="middle" fill="#222" font-style="italic" stroke="#222" stroke-width="0.4">p21</text>
<text x="117.5" y="558" font-size="11.2" font-weight="normal" text-anchor="middle" fill="#222" transform="rotate(-90 117.5 558)" stroke="#222" stroke-width="0.35">Fold change</text>
<line x1="133.5" y1="608.3" x2="136.5" y2="608.3" stroke="#2a2a2a" stroke-width="1"/>
<text x="132.5" y="610.5999999999999" font-size="6.8" font-weight="bold" text-anchor="end" fill="#222" stroke="#222" stroke-width="0.25">0</text>
<line x1="133.5" y1="588.38" x2="136.5" y2="588.38" stroke="#2a2a2a" stroke-width="1"/>
<text x="132.5" y="590.68" font-size="6.8" font-weight="bold" text-anchor="end" fill="#222" stroke="#222" stroke-width="0.25">20</text>
<line x1="133.5" y1="568.4599999999999" x2="136.5" y2="568.4599999999999" stroke="#2a2a2a" stroke-width="1"/>
<text x="132.5" y="570.7599999999999" font-size="6.8" font-weight="bold" text-anchor="end" fill="#222" stroke="#222" stroke-width="0.25">40</text>
<line x1="133.5" y1="548.54" x2="136.5" y2="548.54" stroke="#2a2a2a" stroke-width="1"/>
<text x="132.5" y="550.8399999999999" font-size="6.8" font-weight="bold" text-anchor="end" fill="#222" stroke="#222" stroke-width="0.25">60</text>
<line x1="133.5" y1="528.62" x2="136.5" y2="528.62" stroke="#2a2a2a" stroke-width="1"/>
<text x="132.5" y="530.92" font-size="6.8" font-weight="bold" text-anchor="end" fill="#222" stroke="#222" stroke-width="0.25">80</text>
<line x1="133.5" y1="508.7" x2="136.5" y2="508.7" stroke="#2a2a2a" stroke-width="1"/>
<text x="132.5" y="511.0" font-size="6.8" font-weight="bold" text-anchor="end" fill="#222" stroke="#222" stroke-width="0.25">100</text>
<rect x="145.4" y="606.8059999999999" width="19.0" height="1.4940000000000282" fill="#fff" stroke="#c8c8c8" stroke-width="1"/>
<line x1="154.9" y1="607.8019999999999" x2="154.9" y2="605.81" stroke="#444" stroke-width="0.8"/>
<line x1="150.9" y1="607.8019999999999" x2="158.9" y2="607.8019999999999" stroke="#444" stroke-width="0.8"/>
<line x1="150.9" y1="605.81" x2="158.9" y2="605.81" stroke="#444" stroke-width="0.8"/>
<circle cx="146.9" cy="607.5032" r="1.6" fill="#111"/>
<circle cx="150.9" cy="606.1088" r="1.6" fill="#111"/>
<circle cx="154.9" cy="607.1048" r="1.6" fill="#111"/>
<circle cx="158.9" cy="606.8059999999999" r="1.6" fill="#111"/>
<circle cx="162.9" cy="607.8019999999999" r="1.6" fill="#111"/>
<rect x="174.6" y="582.404" width="19.0" height="25.895999999999958" fill="#fff" stroke="#c8c8c8" stroke-width="1"/>
<line x1="184.1" y1="600.332" x2="184.1" y2="564.476" stroke="#d9c9c9" stroke-width="0.8"/>
<line x1="180.1" y1="600.332" x2="188.1" y2="600.332" stroke="#d9c9c9" stroke-width="0.8"/>
<line x1="180.1" y1="564.476" x2="188.1" y2="564.476" stroke="#d9c9c9" stroke-width="0.8"/>
<path d="M182.29999999999998,557.8079999999999 L185.9,557.8079999999999 L184.1,554.708 Z" fill="#c9474c"/>
<path d="M182.29999999999998,574.7399999999999 L185.9,574.7399999999999 L184.1,571.64 Z" fill="#c9474c"/>
<path d="M178.79999999999998,593.1659999999999 L182.4,593.1659999999999 L180.6,590.066 Z" fill="#c9474c"/>
<path d="M185.79999999999998,593.6639999999999 L189.4,593.6639999999999 L187.6,590.564 Z" fill="#c9474c"/>
<path d="M182.29999999999998,601.632 L185.9,601.632 L184.1,598.532 Z" fill="#c9474c"/>
<path d="M136.5,508.7 V608.3 H198" fill="none" stroke="#2a2a2a" stroke-width="1.1"/>
<line x1="154.9" y1="608.3" x2="154.9" y2="611.8" stroke="#2a2a2a" stroke-width="1.2"/>
<line x1="184.1" y1="608.3" x2="184.1" y2="611.8" stroke="#2a2a2a" stroke-width="1.2"/>
<text x="157.9" y="621.3" font-size="11" font-weight="normal" text-anchor="end" fill="#222" transform="rotate(-45 157.9 621.3)" stroke="#222" stroke-width="0.35">Control</text>
<text x="187.1" y="621.3" font-size="11" font-weight="normal" text-anchor="end" fill="#222" transform="rotate(-45 187.1 621.3)" stroke="#222" stroke-width="0.35">TamX3</text>
<path d="M154.9,600 V543.7 H184.1 V550" fill="none" stroke="#2a2a2a" stroke-width="1.1"/>
<circle cx="167.0" cy="537.7" r="2" fill="#111"/>
<circle cx="172.0" cy="537.7" r="2" fill="#111"/>
<text x="302" y="504.3" font-size="10.5" font-weight="normal" text-anchor="middle" fill="#222" font-style="italic" stroke="#222" stroke-width="0.4">p16</text>
<text x="251.6" y="558" font-size="11.2" font-weight="normal" text-anchor="middle" fill="#222" transform="rotate(-90 251.6 558)" stroke="#222" stroke-width="0.35">Fold change</text>
<line x1="265.5" y1="609.5" x2="268.5" y2="609.5" stroke="#2a2a2a" stroke-width="1"/>
<text x="264.5" y="611.8" font-size="6.8" font-weight="bold" text-anchor="end" fill="#222" stroke="#222" stroke-width="0.25">0</text>
<line x1="265.5" y1="589.5" x2="268.5" y2="589.5" stroke="#2a2a2a" stroke-width="1"/>
<text x="264.5" y="591.8" font-size="6.8" font-weight="bold" text-anchor="end" fill="#222" stroke="#222" stroke-width="0.25">10</text>
<line x1="265.5" y1="569.5" x2="268.5" y2="569.5" stroke="#2a2a2a" stroke-width="1"/>
<text x="264.5" y="571.8" font-size="6.8" font-weight="bold" text-anchor="end" fill="#222" stroke="#222" stroke-width="0.25">20</text>
<line x1="265.5" y1="549.5" x2="268.5" y2="549.5" stroke="#2a2a2a" stroke-width="1"/>
<text x="264.5" y="551.8" font-size="6.8" font-weight="bold" text-anchor="end" fill="#222" stroke="#222" stroke-width="0.25">30</text>
<line x1="265.5" y1="529.5" x2="268.5" y2="529.5" stroke="#2a2a2a" stroke-width="1"/>
<text x="264.5" y="531.8" font-size="6.8" font-weight="bold" text-anchor="end" fill="#222" stroke="#222" stroke-width="0.25">40</text>
<line x1="265.5" y1="509.5" x2="268.5" y2="509.5" stroke="#2a2a2a" stroke-width="1"/>
<text x="264.5" y="511.8" font-size="6.8" font-weight="bold" text-anchor="end" fill="#222" stroke="#222" stroke-width="0.25">50</text>
<rect x="279.0" y="607.5" width="19.0" height="2.0" fill="#fff" stroke="#c8c8c8" stroke-width="1"/>
<line x1="288.5" y1="608.9" x2="288.5" y2="605.9" stroke="#444" stroke-width="0.8"/>
<line x1="284.5" y1="608.9" x2="292.5" y2="608.9" stroke="#444" stroke-width="0.8"/>
<line x1="284.5" y1="605.9" x2="292.5" y2="605.9" stroke="#444" stroke-width="0.8"/>
<circle cx="282.5" cy="605.5" r="1.6" fill="#111"/>
<circle cx="286.5" cy="606.5" r="1.6" fill="#111"/>
<circle cx="290.5" cy="607.9" r="1.6" fill="#111"/>
<circle cx="293.5" cy="608.5" r="1.6" fill="#111"/>
<circle cx="296.5" cy="607.5" r="1.6" fill="#111"/>
<rect x="307.5" y="587.5" width="19.0" height="22.0" fill="#fff" stroke="#c8c8c8" stroke-width="1"/>
<line x1="317" y1="609.5" x2="317" y2="563.5" stroke="#d9c9c9" stroke-width="0.8"/>
<line x1="313" y1="609.5" x2="321" y2="609.5" stroke="#d9c9c9" stroke-width="0.8"/>
<line x1="313" y1="563.5" x2="321" y2="563.5" stroke="#d9c9c9" stroke-width="0.8"/>
<path d="M315.2,549.8 L318.8,549.8 L317,546.7 Z" fill="#c9474c"/>
<path d="M315.2,585.8 L318.8,585.8 L317,582.7 Z" fill="#c9474c"/>
<path d="M315.2,596.8 L318.8,596.8 L317,593.7 Z" fill="#c9474c"/>
<path d="M315.2,605.8 L318.8,605.8 L317,602.7 Z" fill="#c9474c"/>
<path d="M315.2,608.8 L318.8,608.8 L317,605.7 Z" fill="#c9474c"/>
<path d="M268.5,509.5 V609.5 H337.3" fill="none" stroke="#2a2a2a" stroke-width="1.1"/>
<line x1="288.5" y1="609.5" x2="288.5" y2="613.0" stroke="#2a2a2a" stroke-width="1.2"/>
<line x1="317" y1="609.5" x2="317" y2="613.0" stroke="#2a2a2a" stroke-width="1.2"/>
<text x="291.5" y="622.5" font-size="11" font-weight="normal" text-anchor="end" fill="#222" transform="rotate(-45 291.5 622.5)" stroke="#222" stroke-width="0.35">Control</text>
<text x="320.0" y="622.5" font-size="11" font-weight="normal" text-anchor="end" fill="#222" transform="rotate(-45 320.0 622.5)" stroke="#222" stroke-width="0.35">TamX3</text>
<path d="M288.5,600 V535.9 H317 V542" fill="none" stroke="#2a2a2a" stroke-width="1.1"/>
<circle cx="302.75" cy="529.9" r="2" fill="#111"/>
<text x="425.9" y="504.3" font-size="10.5" font-weight="normal" text-anchor="middle" fill="#222" font-style="italic" stroke="#222" stroke-width="0.4">Nf-kb</text>
<text x="375.5" y="558" font-size="11.2" font-weight="normal" text-anchor="middle" fill="#222" transform="rotate(-90 375.5 558)" stroke="#222" stroke-width="0.35">Fold change</text>
<line x1="389.9" y1="609.0" x2="392.9" y2="609.0" stroke="#2a2a2a" stroke-width="1"/>
<text x="388.9" y="611.3" font-size="6.8" font-weight="bold" text-anchor="end" fill="#222" stroke="#222" stroke-width="0.25">0</text>
<line x1="389.9" y1="588.86" x2="392.9" y2="588.86" stroke="#2a2a2a" stroke-width="1"/>
<text x="388.9" y="591.16" font-size="6.8" font-weight="bold" text-anchor="end" fill="#222" stroke="#222" stroke-width="0.25">20</text>
<line x1="389.9" y1="568.72" x2="392.9" y2="568.72" stroke="#2a2a2a" stroke-width="1"/>
<text x="388.9" y="571.02" font-size="6.8" font-weight="bold" text-anchor="end" fill="#222" stroke="#222" stroke-width="0.25">40</text>
<line x1="389.9" y1="548.58" x2="392.9" y2="548.58" stroke="#2a2a2a" stroke-width="1"/>
<text x="388.9" y="550.88" font-size="6.8" font-weight="bold" text-anchor="end" fill="#222" stroke="#222" stroke-width="0.25">60</text>
<line x1="389.9" y1="528.44" x2="392.9" y2="528.44" stroke="#2a2a2a" stroke-width="1"/>
<text x="388.9" y="530.74" font-size="6.8" font-weight="bold" text-anchor="end" fill="#222" stroke="#222" stroke-width="0.25">80</text>
<line x1="389.9" y1="508.3" x2="392.9" y2="508.3" stroke="#2a2a2a" stroke-width="1"/>
<text x="388.9" y="510.6" font-size="6.8" font-weight="bold" text-anchor="end" fill="#222" stroke="#222" stroke-width="0.25">100</text>
<rect x="404.2" y="607.993" width="19.0" height="1.0069999999999482" fill="#fff" stroke="#c8c8c8" stroke-width="1"/>
<line x1="413.7" y1="608.6979" x2="413.7" y2="606.986" stroke="#444" stroke-width="0.8"/>
<line x1="409.7" y1="608.6979" x2="417.7" y2="608.6979" stroke="#444" stroke-width="0.8"/>
<line x1="409.7" y1="606.986" x2="417.7" y2="606.986" stroke="#444" stroke-width="0.8"/>
<circle cx="407.7" cy="608.4965" r="1.6" fill="#111"/>
<circle cx="411.7" cy="607.993" r="1.6" fill="#111"/>
<circle cx="414.7" cy="605.979" r="1.6" fill="#111"/>
<circle cx="417.7" cy="608.4965" r="1.6" fill="#111"/>
<circle cx="421.7" cy="608.4965" r="1.6" fill="#111"/>
<rect x="433.5" y="584.832" width="19.0" height="24.168000000000006" fill="#fff" stroke="#c8c8c8" stroke-width="1"/>
<line x1="443" y1="603.965" x2="443" y2="565.699" stroke="#d9c9c9" stroke-width="0.8"/>
<line x1="439" y1="603.965" x2="447" y2="603.965" stroke="#d9c9c9" stroke-width="0.8"/>
<line x1="439" y1="565.699" x2="447" y2="565.699" stroke="#d9c9c9" stroke-width="0.8"/>
<path d="M441.2,560.957 L444.8,560.957 L443,557.8570000000001 Z" fill="#c9474c"/>
<path d="M441.2,570.02 L444.8,570.02 L443,566.9200000000001 Z" fill="#c9474c"/>
<path d="M441.2,585.125 L444.8,585.125 L443,582.0250000000001 Z" fill="#c9474c"/>
<path d="M441.2,601.237 L444.8,601.237 L443,598.1370000000001 Z" fill="#c9474c"/>
<path d="M441.2,607.279 L444.8,607.279 L443,604.1790000000001 Z" fill="#c9474c"/>
<path d="M392.9,508.3 V609 H461.2" fill="none" stroke="#2a2a2a" stroke-width="1.1"/>
<line x1="413.7" y1="609" x2="413.7" y2="612.5" stroke="#2a2a2a" stroke-width="1.2"/>
<line x1="443" y1="609" x2="443" y2="612.5" stroke="#2a2a2a" stroke-width="1.2"/>
<text x="416.7" y="622" font-size="11" font-weight="normal" text-anchor="end" fill="#222" transform="rotate(-45 416.7 622)" stroke="#222" stroke-width="0.35">Control</text>
<text x="446.0" y="622" font-size="11" font-weight="normal" text-anchor="end" fill="#222" transform="rotate(-45 446.0 622)" stroke="#222" stroke-width="0.35">TamX3</text>
<path d="M413.7,600 V546.8 H443 V553" fill="none" stroke="#2a2a2a" stroke-width="1.1"/>
<circle cx="428.35" cy="540.8" r="2" fill="#111"/>
<text x="553.8" y="504.3" font-size="10.5" font-weight="normal" text-anchor="middle" fill="#222" font-style="italic" stroke="#222" stroke-width="0.4">p53</text>
<text x="501.3" y="558" font-size="11.2" font-weight="normal" text-anchor="middle" fill="#222" transform="rotate(-90 501.3 558)" stroke="#222" stroke-width="0.35">Fold change</text>
<line x1="521" y1="607.5" x2="524" y2="607.5" stroke="#2a2a2a" stroke-width="1"/>
<text x="520" y="609.8" font-size="6.8" font-weight="bold" text-anchor="end" fill="#222" stroke="#222" stroke-width="0.25">0.0</text>
<line x1="521" y1="587.34" x2="524" y2="587.34" stroke="#2a2a2a" stroke-width="1"/>
<text x="520" y="589.64" font-size="6.8" font-weight="bold" text-anchor="end" fill="#222" stroke="#222" stroke-width="0.25">0.5</text>
<line x1="521" y1="567.18" x2="524" y2="567.18" stroke="#2a2a2a" stroke-width="1"/>
<text x="520" y="569.4799999999999" font-size="6.8" font-weight="bold" text-anchor="end" fill="#222" stroke="#222" stroke-width="0.25">1.0</text>
<line x1="521" y1="547.02" x2="524" y2="547.02" stroke="#2a2a2a" stroke-width="1"/>
<text x="520" y="549.3199999999999" font-size="6.8" font-weight="bold" text-anchor="end" fill="#222" stroke="#222" stroke-width="0.25">1.5</text>
<line x1="521" y1="526.86" x2="524" y2="526.86" stroke="#2a2a2a" stroke-width="1"/>
<text x="520" y="529.16" font-size="6.8" font-weight="bold" text-anchor="end" fill="#222" stroke="#222" stroke-width="0.25">2.0</text>
<line x1="521" y1="506.7" x2="524" y2="506.7" stroke="#2a2a2a" stroke-width="1"/>
<text x="520" y="509.0" font-size="6.8" font-weight="bold" text-anchor="end" fill="#222" stroke="#222" stroke-width="0.25">2.5</text>
<rect x="533.5" y="567.18" width="19.0" height="40.32000000000005" fill="#fff" stroke="#c8c8c8" stroke-width="1"/>
<line x1="543" y1="579.276" x2="543" y2="555.8904" stroke="#444" stroke-width="0.8"/>
<line x1="539" y1="579.276" x2="547" y2="579.276" stroke="#444" stroke-width="0.8"/>
<line x1="539" y1="555.8904" x2="547" y2="555.8904" stroke="#444" stroke-width="0.8"/>
<circle cx="543" cy="551.052" r="1.6" fill="#111"/>
<circle cx="543" cy="565.164" r="1.6" fill="#111"/>
<circle cx="539" cy="577.26" r="1.6" fill="#111"/>
<circle cx="546.5" cy="575.244" r="1.6" fill="#111"/>
<circle cx="543" cy="569.196" r="1.6" fill="#111"/>
<rect x="562.5" y="547.8264" width="19.0" height="59.673599999999965" fill="#fff" stroke="#c8c8c8" stroke-width="1"/>
<line x1="572" y1="568.7927999999999" x2="572" y2="526.0536" stroke="#d9c9c9" stroke-width="0.8"/>
<line x1="568" y1="568.7927999999999" x2="576" y2="568.7927999999999" stroke="#d9c9c9" stroke-width="0.8"/>
<line x1="568" y1="526.0536" x2="576" y2="526.0536" stroke="#d9c9c9" stroke-width="0.8"/>
<path d="M570.2,522.112 L573.8,522.112 L572,519.0120000000001 Z" fill="#c9474c"/>
<path d="M570.2,538.2399999999999 L573.8,538.2399999999999 L572,535.14 Z" fill="#c9474c"/>
<path d="M570.2,552.352 L573.8,552.352 L572,549.2520000000001 Z" fill="#c9474c"/>
<path d="M570.2,560.4159999999999 L573.8,560.4159999999999 L572,557.316 Z" fill="#c9474c"/>
<path d="M570.2,578.56 L573.8,578.56 L572,575.46 Z" fill="#c9474c"/>
<path d="M524,506.7 V607.5 H591.9" fill="none" stroke="#2a2a2a" stroke-width="1.1"/>
<line x1="543" y1="607.5" x2="543" y2="611.0" stroke="#2a2a2a" stroke-width="1.2"/>
<line x1="572" y1="607.5" x2="572" y2="611.0" stroke="#2a2a2a" stroke-width="1.2"/>
<text x="546.0" y="620.5" font-size="11" font-weight="normal" text-anchor="end" fill="#222" transform="rotate(-45 546.0 620.5)" stroke="#222" stroke-width="0.35">Control</text>
<text x="575.0" y="620.5" font-size="11" font-weight="normal" text-anchor="end" fill="#222" transform="rotate(-45 575.0 620.5)" stroke="#222" stroke-width="0.35">TamX3</text>
</svg></body></html>
